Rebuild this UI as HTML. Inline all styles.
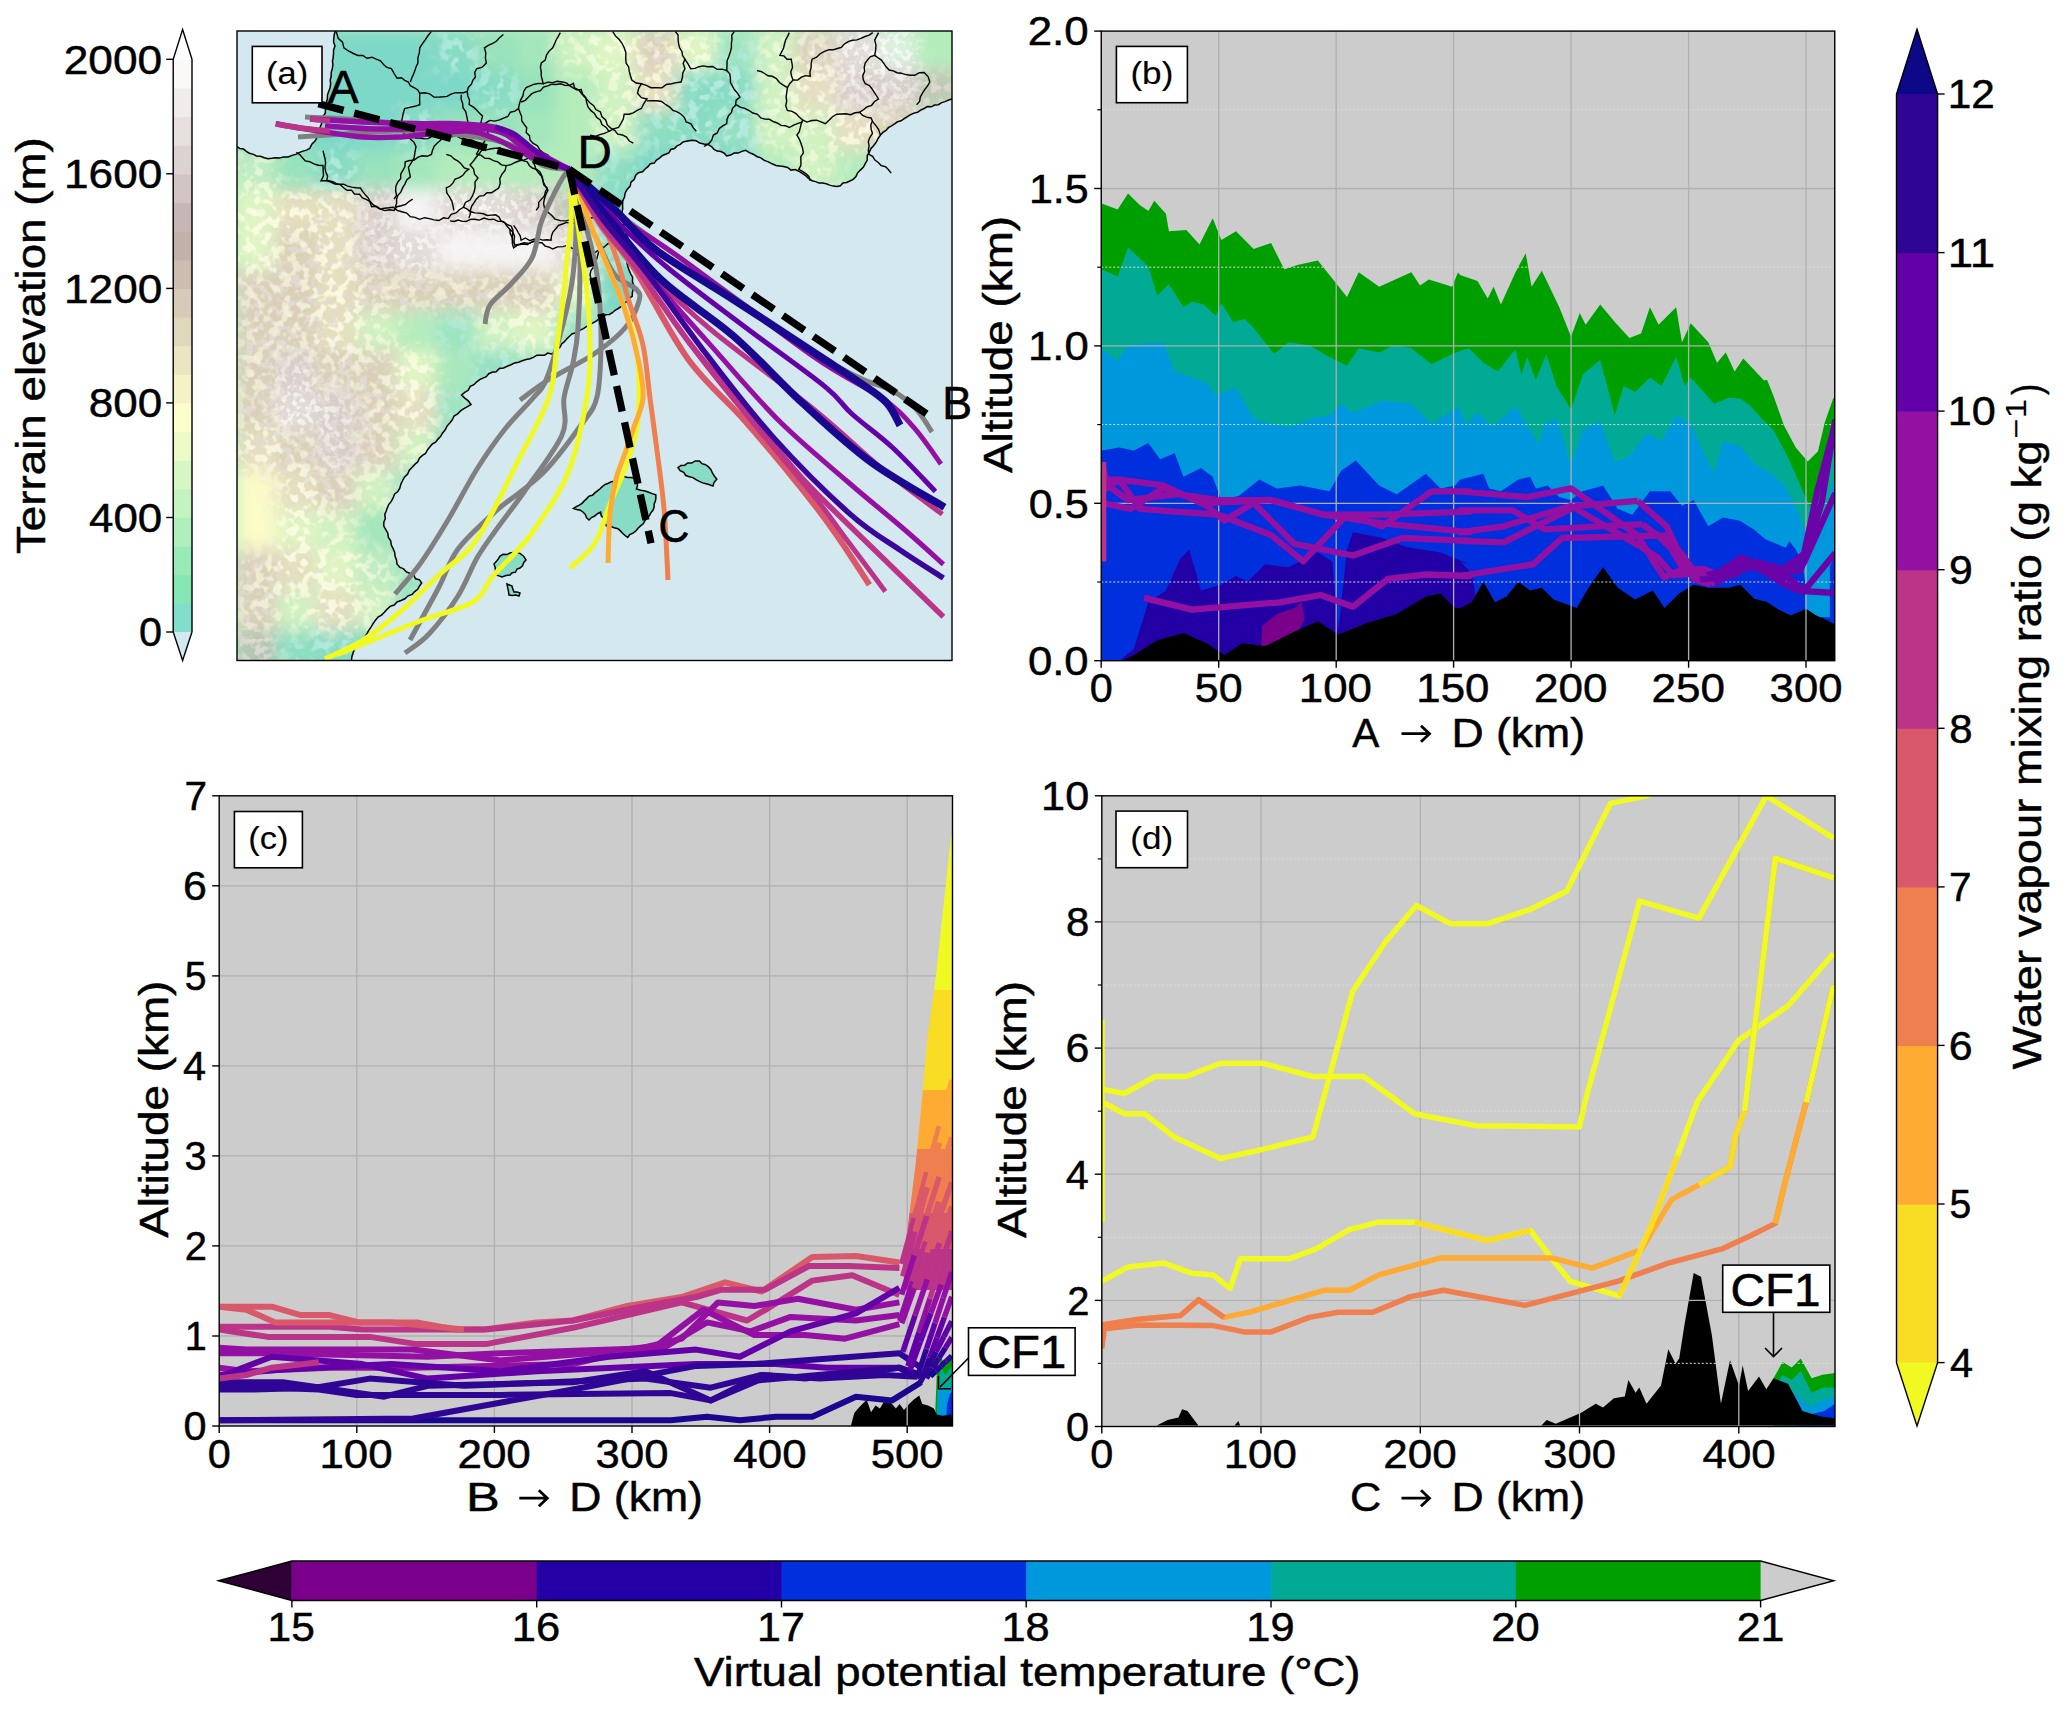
<!DOCTYPE html><html><head><meta charset="utf-8"><style>html,body{margin:0;padding:0;background:#fff;}svg{display:block;}</style></head><body><svg width="2067" height="1712" viewBox="0 0 2067 1712" font-family="Liberation Sans, sans-serif">
<rect x="0" y="0" width="2067" height="1712" fill="#fff"/>
<rect x="173.2" y="603.37" width="18.8" height="29.23" fill="#80deca"/>
<rect x="173.2" y="574.73" width="18.8" height="29.23" fill="#84e6b3"/>
<rect x="173.2" y="546.10" width="18.8" height="29.23" fill="#98eab7"/>
<rect x="173.2" y="517.46" width="18.8" height="29.23" fill="#aeefbc"/>
<rect x="173.2" y="488.82" width="18.8" height="29.24" fill="#c2f3c0"/>
<rect x="173.2" y="460.19" width="18.8" height="29.24" fill="#d6f7c4"/>
<rect x="173.2" y="431.55" width="18.8" height="29.23" fill="#eafbc8"/>
<rect x="173.2" y="402.92" width="18.8" height="29.23" fill="#fefecc"/>
<rect x="173.2" y="374.28" width="18.8" height="29.23" fill="#f4f2c6"/>
<rect x="173.2" y="345.65" width="18.8" height="29.23" fill="#ebe5c1"/>
<rect x="173.2" y="317.01" width="18.8" height="29.24" fill="#e0d8bc"/>
<rect x="173.2" y="288.38" width="18.8" height="29.23" fill="#d6cbb6"/>
<rect x="173.2" y="259.74" width="18.8" height="29.23" fill="#ccbdb0"/>
<rect x="173.2" y="231.11" width="18.8" height="29.23" fill="#c2b0ab"/>
<rect x="173.2" y="202.47" width="18.8" height="29.24" fill="#c7b7b4"/>
<rect x="173.2" y="173.84" width="18.8" height="29.23" fill="#d1c4c1"/>
<rect x="173.2" y="145.20" width="18.8" height="29.23" fill="#dcd2d0"/>
<rect x="173.2" y="116.57" width="18.8" height="29.23" fill="#e6dfde"/>
<rect x="173.2" y="87.93" width="18.8" height="29.23" fill="#f0eceb"/>
<rect x="173.2" y="59.30" width="18.8" height="29.23" fill="#faf9f8"/>
<polygon points="173.2,632.0 192.0,632.0 182.6,660.5" fill="#d4e8f0"/>
<polygon points="173.2,59.3 192.0,59.3 182.6,29.5" fill="#fdfdfd"/>
<polygon points="182.6,29.5 192.0,59.3 192.0,632.0 182.6,660.5 173.2,632.0 173.2,59.3" fill="none" stroke="#000" stroke-width="1.4"/>
<line x1="166.2" y1="632.0" x2="173.2" y2="632.0" stroke="#000" stroke-width="1.4"/>
<text x="139.08" y="646.3" font-size="40.0" textLength="23.04" lengthAdjust="spacingAndGlyphs" fill="#000" stroke="#000" stroke-width="0.47">0</text>
<line x1="166.2" y1="517.5" x2="173.2" y2="517.5" stroke="#000" stroke-width="1.4"/>
<text x="89.01" y="531.8" font-size="40.0" textLength="73.20" lengthAdjust="spacingAndGlyphs" fill="#000" stroke="#000" stroke-width="0.47">400</text>
<line x1="166.2" y1="402.9" x2="173.2" y2="402.9" stroke="#000" stroke-width="1.4"/>
<text x="88.85" y="417.2" font-size="40.0" textLength="73.36" lengthAdjust="spacingAndGlyphs" fill="#000" stroke="#000" stroke-width="0.47">800</text>
<line x1="166.2" y1="288.4" x2="173.2" y2="288.4" stroke="#000" stroke-width="1.4"/>
<text x="64.05" y="302.7" font-size="40.0" textLength="98.17" lengthAdjust="spacingAndGlyphs" fill="#000" stroke="#000" stroke-width="0.47">1200</text>
<line x1="166.2" y1="173.8" x2="173.2" y2="173.8" stroke="#000" stroke-width="1.4"/>
<text x="64.05" y="188.1" font-size="40.0" textLength="98.17" lengthAdjust="spacingAndGlyphs" fill="#000" stroke="#000" stroke-width="0.47">1600</text>
<line x1="166.2" y1="59.3" x2="173.2" y2="59.3" stroke="#000" stroke-width="1.4"/>
<text x="63.75" y="73.6" font-size="40.0" textLength="98.48" lengthAdjust="spacingAndGlyphs" fill="#000" stroke="#000" stroke-width="0.47">2000</text>
<text x="-162.30" y="346.5" font-size="40.0" textLength="416.79" lengthAdjust="spacingAndGlyphs" fill="#000" stroke="#000" stroke-width="0.47" transform="rotate(-90 45.2 346.5)">Terrain elevation (m)</text>
<defs><clipPath id="mapclip"><rect x="237" y="31" width="715" height="629.5"/></clipPath><clipPath id="landclip"><polygon points="335.4,31.0 333.5,53.5 328.7,91.4 323.0,119.9 317.3,137.0 309.7,148.4 296.4,154.1 279.4,157.9 268.0,158.8 252.8,154.1 237.0,146.5 237.0,660.5 351.5,660.5 357.2,643.7 366.7,634.2 378.0,617.1 397.0,602.0 412.2,594.4 421.7,583.0 410.3,573.5 397.0,564.0 391.3,545.0 383.8,526.0 384.7,514.6 391.3,501.4 400.8,484.3 412.2,467.2 427.4,450.0 442.6,433.0 454.0,416.0 471.0,404.5 461.6,395.0 476.8,381.8 492.0,372.3 511.0,364.7 533.7,357.1 555.0,352.3 569.2,336.5 590.2,324.3 618.2,308.5 632.2,296.3 634.0,285.7 630.5,273.5 627.0,263.0 635.7,254.2 630.5,243.7 623.5,222.7 622.6,205.1 625.2,192.9 635.7,175.3 648.0,166.6 665.5,154.3 683.0,142.0 696.3,140.8 711.5,146.5 726.7,156.0 745.7,150.3 760.8,157.9 776.0,165.5 798.8,171.2 812.1,180.7 836.8,186.4 855.8,176.9 865.2,163.6 871.0,148.4 880.4,135.1 897.5,121.8 924.1,108.5 952.0,99.0 952.0,31.0"/></clipPath><filter id="blgrid" filterUnits="userSpaceOnUse" x="0" y="0" width="1100" height="800"><feGaussianBlur stdDeviation="8"/></filter><filter id="blmask" filterUnits="userSpaceOnUse" x="0" y="0" width="1100" height="800"><feGaussianBlur stdDeviation="10"/></filter><filter id="speck" filterUnits="userSpaceOnUse" x="237" y="31" width="715" height="630"><feTurbulence type="fractalNoise" baseFrequency="0.18" numOctaves="2" seed="7"/><feColorMatrix type="matrix" values="0 0 0 0 1  0 0 0 0 1  0 0 0 0 1  3 0 0 0 -1.75"/></filter><filter id="speckd" filterUnits="userSpaceOnUse" x="237" y="31" width="715" height="630"><feTurbulence type="fractalNoise" baseFrequency="0.15" numOctaves="2" seed="11"/><feColorMatrix type="matrix" values="0 0 0 0 0.45  0 0 0 0 0.4  0 0 0 0 0.35  0 3 0 0 -1.85"/></filter></defs>
<g clip-path="url(#mapclip)">
<rect x="237.0" y="31.0" width="715.0" height="629.5" fill="#d4e8f0"/>
<polygon points="335.4,31.0 333.5,53.5 328.7,91.4 323.0,119.9 317.3,137.0 309.7,148.4 296.4,154.1 279.4,157.9 268.0,158.8 252.8,154.1 237.0,146.5 237.0,660.5 351.5,660.5 357.2,643.7 366.7,634.2 378.0,617.1 397.0,602.0 412.2,594.4 421.7,583.0 410.3,573.5 397.0,564.0 391.3,545.0 383.8,526.0 384.7,514.6 391.3,501.4 400.8,484.3 412.2,467.2 427.4,450.0 442.6,433.0 454.0,416.0 471.0,404.5 461.6,395.0 476.8,381.8 492.0,372.3 511.0,364.7 533.7,357.1 555.0,352.3 569.2,336.5 590.2,324.3 618.2,308.5 632.2,296.3 634.0,285.7 630.5,273.5 627.0,263.0 635.7,254.2 630.5,243.7 623.5,222.7 622.6,205.1 625.2,192.9 635.7,175.3 648.0,166.6 665.5,154.3 683.0,142.0 696.3,140.8 711.5,146.5 726.7,156.0 745.7,150.3 760.8,157.9 776.0,165.5 798.8,171.2 812.1,180.7 836.8,186.4 855.8,176.9 865.2,163.6 871.0,148.4 880.4,135.1 897.5,121.8 924.1,108.5 952.0,99.0 952.0,31.0" fill="#b4eebe"/>
<g clip-path="url(#landclip)">
<g filter="url(#blgrid)">
<rect x="236" y="30" width="42" height="42" fill="#7ed8c8"/>
<rect x="276" y="30" width="42" height="42" fill="#7ed8c8"/>
<rect x="316" y="30" width="42" height="42" fill="#7ed8c8"/>
<rect x="356" y="30" width="42" height="42" fill="#7ed8c8"/>
<rect x="396" y="30" width="42" height="42" fill="#7ed8c8"/>
<rect x="436" y="30" width="42" height="42" fill="#88dcc3"/>
<rect x="476" y="30" width="42" height="42" fill="#98e2bc"/>
<rect x="516" y="30" width="42" height="42" fill="#a3e6bc"/>
<rect x="556" y="30" width="42" height="42" fill="#d0f2c1"/>
<rect x="596" y="30" width="42" height="42" fill="#dff5c3"/>
<rect x="636" y="30" width="42" height="42" fill="#dad0b7"/>
<rect x="676" y="30" width="42" height="42" fill="#dff5c3"/>
<rect x="716" y="30" width="42" height="42" fill="#9ee4c1"/>
<rect x="756" y="30" width="42" height="42" fill="#d0f2c1"/>
<rect x="796" y="30" width="42" height="42" fill="#dad0b7"/>
<rect x="836" y="30" width="42" height="42" fill="#e2dad7"/>
<rect x="876" y="30" width="42" height="42" fill="#dcf1de"/>
<rect x="916" y="30" width="42" height="42" fill="#b4ecbc"/>
<rect x="236" y="70" width="42" height="42" fill="#7ed8c8"/>
<rect x="276" y="70" width="42" height="42" fill="#7ed8c8"/>
<rect x="316" y="70" width="42" height="42" fill="#7ed8c8"/>
<rect x="356" y="70" width="42" height="42" fill="#7ed8c8"/>
<rect x="396" y="70" width="42" height="42" fill="#7ed8c8"/>
<rect x="436" y="70" width="42" height="42" fill="#7ed8c8"/>
<rect x="476" y="70" width="42" height="42" fill="#88dcc3"/>
<rect x="516" y="70" width="42" height="42" fill="#98e2bc"/>
<rect x="556" y="70" width="42" height="42" fill="#b4ecbc"/>
<rect x="596" y="70" width="42" height="42" fill="#d0f2c1"/>
<rect x="636" y="70" width="42" height="42" fill="#e5dfbd"/>
<rect x="676" y="70" width="42" height="42" fill="#88dcc3"/>
<rect x="716" y="70" width="42" height="42" fill="#88dcc3"/>
<rect x="756" y="70" width="42" height="42" fill="#d0f2c1"/>
<rect x="796" y="70" width="42" height="42" fill="#e5dfbd"/>
<rect x="836" y="70" width="42" height="42" fill="#d8cec9"/>
<rect x="876" y="70" width="42" height="42" fill="#d8cec9"/>
<rect x="916" y="70" width="42" height="42" fill="#becab2"/>
<rect x="236" y="110" width="42" height="42" fill="#7ed8c8"/>
<rect x="276" y="110" width="42" height="42" fill="#7ed8c8"/>
<rect x="316" y="110" width="42" height="42" fill="#7ed8c8"/>
<rect x="356" y="110" width="42" height="42" fill="#7ed8c8"/>
<rect x="396" y="110" width="42" height="42" fill="#88dcc3"/>
<rect x="436" y="110" width="42" height="42" fill="#98e2bc"/>
<rect x="476" y="110" width="42" height="42" fill="#98e2bc"/>
<rect x="516" y="110" width="42" height="42" fill="#a3e6bc"/>
<rect x="556" y="110" width="42" height="42" fill="#b4ecbc"/>
<rect x="596" y="110" width="42" height="42" fill="#d0f2c1"/>
<rect x="636" y="110" width="42" height="42" fill="#8edec1"/>
<rect x="676" y="110" width="42" height="42" fill="#88dcc3"/>
<rect x="716" y="110" width="42" height="42" fill="#94e0c3"/>
<rect x="756" y="110" width="42" height="42" fill="#d0f2c1"/>
<rect x="796" y="110" width="42" height="42" fill="#d0f2c1"/>
<rect x="836" y="110" width="42" height="42" fill="#e5dfbd"/>
<rect x="876" y="110" width="42" height="42" fill="#dad0b7"/>
<rect x="916" y="110" width="42" height="42" fill="#b4ecbc"/>
<rect x="236" y="150" width="42" height="42" fill="#c0ecc1"/>
<rect x="276" y="150" width="42" height="42" fill="#98e2bc"/>
<rect x="316" y="150" width="42" height="42" fill="#88dcc3"/>
<rect x="356" y="150" width="42" height="42" fill="#98e2bc"/>
<rect x="396" y="150" width="42" height="42" fill="#a3e6bc"/>
<rect x="436" y="150" width="42" height="42" fill="#b4ecbc"/>
<rect x="476" y="150" width="42" height="42" fill="#b4ecbc"/>
<rect x="516" y="150" width="42" height="42" fill="#b4ecbc"/>
<rect x="556" y="150" width="42" height="42" fill="#b4ecbc"/>
<rect x="596" y="150" width="42" height="42" fill="#8edec1"/>
<rect x="636" y="150" width="42" height="42" fill="#7ed8c8"/>
<rect x="676" y="150" width="42" height="42" fill="#7ed8c8"/>
<rect x="716" y="150" width="42" height="42" fill="#7ed8c8"/>
<rect x="756" y="150" width="42" height="42" fill="#b4ecbc"/>
<rect x="796" y="150" width="42" height="42" fill="#d0f2c1"/>
<rect x="836" y="150" width="42" height="42" fill="#b4ecbc"/>
<rect x="876" y="150" width="42" height="42" fill="#7ed8c8"/>
<rect x="916" y="150" width="42" height="42" fill="#7ed8c8"/>
<rect x="236" y="190" width="42" height="42" fill="#dff5c3"/>
<rect x="276" y="190" width="42" height="42" fill="#e5dfbd"/>
<rect x="316" y="190" width="42" height="42" fill="#e5dfbd"/>
<rect x="356" y="190" width="42" height="42" fill="#d8cec9"/>
<rect x="396" y="190" width="42" height="42" fill="#f6f4f4"/>
<rect x="436" y="190" width="42" height="42" fill="#e2dad7"/>
<rect x="476" y="190" width="42" height="42" fill="#e2dad7"/>
<rect x="516" y="190" width="42" height="42" fill="#d8cec9"/>
<rect x="556" y="190" width="42" height="42" fill="#becab2"/>
<rect x="596" y="190" width="42" height="42" fill="#7ed8c8"/>
<rect x="636" y="190" width="42" height="42" fill="#7ed8c8"/>
<rect x="676" y="190" width="42" height="42" fill="#7ed8c8"/>
<rect x="716" y="190" width="42" height="42" fill="#7ed8c8"/>
<rect x="756" y="190" width="42" height="42" fill="#7ed8c8"/>
<rect x="796" y="190" width="42" height="42" fill="#7ed8c8"/>
<rect x="836" y="190" width="42" height="42" fill="#7ed8c8"/>
<rect x="876" y="190" width="42" height="42" fill="#7ed8c8"/>
<rect x="916" y="190" width="42" height="42" fill="#7ed8c8"/>
<rect x="236" y="230" width="42" height="42" fill="#dff5c3"/>
<rect x="276" y="230" width="42" height="42" fill="#dad0b7"/>
<rect x="316" y="230" width="42" height="42" fill="#e5dfbd"/>
<rect x="356" y="230" width="42" height="42" fill="#d8cec9"/>
<rect x="396" y="230" width="42" height="42" fill="#e2dad7"/>
<rect x="436" y="230" width="42" height="42" fill="#f6f4f4"/>
<rect x="476" y="230" width="42" height="42" fill="#f6f4f4"/>
<rect x="516" y="230" width="42" height="42" fill="#f6f4f4"/>
<rect x="556" y="230" width="42" height="42" fill="#e2dad7"/>
<rect x="596" y="230" width="42" height="42" fill="#94e0c3"/>
<rect x="636" y="230" width="42" height="42" fill="#7ed8c8"/>
<rect x="676" y="230" width="42" height="42" fill="#7ed8c8"/>
<rect x="716" y="230" width="42" height="42" fill="#7ed8c8"/>
<rect x="756" y="230" width="42" height="42" fill="#7ed8c8"/>
<rect x="796" y="230" width="42" height="42" fill="#7ed8c8"/>
<rect x="836" y="230" width="42" height="42" fill="#7ed8c8"/>
<rect x="876" y="230" width="42" height="42" fill="#7ed8c8"/>
<rect x="916" y="230" width="42" height="42" fill="#7ed8c8"/>
<rect x="236" y="270" width="42" height="42" fill="#dad0b7"/>
<rect x="276" y="270" width="42" height="42" fill="#dad0b7"/>
<rect x="316" y="270" width="42" height="42" fill="#e5dfbd"/>
<rect x="356" y="270" width="42" height="42" fill="#dad0b7"/>
<rect x="396" y="270" width="42" height="42" fill="#dad0b7"/>
<rect x="436" y="270" width="42" height="42" fill="#dad0b7"/>
<rect x="476" y="270" width="42" height="42" fill="#dad0b7"/>
<rect x="516" y="270" width="42" height="42" fill="#dad0b7"/>
<rect x="556" y="270" width="42" height="42" fill="#dff5c3"/>
<rect x="596" y="270" width="42" height="42" fill="#7ed8c8"/>
<rect x="636" y="270" width="42" height="42" fill="#7ed8c8"/>
<rect x="676" y="270" width="42" height="42" fill="#7ed8c8"/>
<rect x="716" y="270" width="42" height="42" fill="#7ed8c8"/>
<rect x="756" y="270" width="42" height="42" fill="#7ed8c8"/>
<rect x="796" y="270" width="42" height="42" fill="#7ed8c8"/>
<rect x="836" y="270" width="42" height="42" fill="#7ed8c8"/>
<rect x="876" y="270" width="42" height="42" fill="#7ed8c8"/>
<rect x="916" y="270" width="42" height="42" fill="#7ed8c8"/>
<rect x="236" y="310" width="42" height="42" fill="#dad0b7"/>
<rect x="276" y="310" width="42" height="42" fill="#dad0b7"/>
<rect x="316" y="310" width="42" height="42" fill="#e5dfbd"/>
<rect x="356" y="310" width="42" height="42" fill="#d0f2c1"/>
<rect x="396" y="310" width="42" height="42" fill="#b4ecbc"/>
<rect x="436" y="310" width="42" height="42" fill="#9ee4c1"/>
<rect x="476" y="310" width="42" height="42" fill="#d0f2c1"/>
<rect x="516" y="310" width="42" height="42" fill="#dff5c3"/>
<rect x="556" y="310" width="42" height="42" fill="#9ee4c1"/>
<rect x="596" y="310" width="42" height="42" fill="#7ed8c8"/>
<rect x="636" y="310" width="42" height="42" fill="#7ed8c8"/>
<rect x="676" y="310" width="42" height="42" fill="#7ed8c8"/>
<rect x="716" y="310" width="42" height="42" fill="#7ed8c8"/>
<rect x="756" y="310" width="42" height="42" fill="#7ed8c8"/>
<rect x="796" y="310" width="42" height="42" fill="#7ed8c8"/>
<rect x="836" y="310" width="42" height="42" fill="#7ed8c8"/>
<rect x="876" y="310" width="42" height="42" fill="#7ed8c8"/>
<rect x="916" y="310" width="42" height="42" fill="#7ed8c8"/>
<rect x="236" y="350" width="42" height="42" fill="#dad0b7"/>
<rect x="276" y="350" width="42" height="42" fill="#d8cec9"/>
<rect x="316" y="350" width="42" height="42" fill="#dad0b7"/>
<rect x="356" y="350" width="42" height="42" fill="#dad0b7"/>
<rect x="396" y="350" width="42" height="42" fill="#dff5c3"/>
<rect x="436" y="350" width="42" height="42" fill="#a9e8bc"/>
<rect x="476" y="350" width="42" height="42" fill="#94e0c3"/>
<rect x="516" y="350" width="42" height="42" fill="#9ee4c1"/>
<rect x="556" y="350" width="42" height="42" fill="#7ed8c8"/>
<rect x="596" y="350" width="42" height="42" fill="#7ed8c8"/>
<rect x="636" y="350" width="42" height="42" fill="#7ed8c8"/>
<rect x="676" y="350" width="42" height="42" fill="#7ed8c8"/>
<rect x="716" y="350" width="42" height="42" fill="#7ed8c8"/>
<rect x="756" y="350" width="42" height="42" fill="#7ed8c8"/>
<rect x="796" y="350" width="42" height="42" fill="#7ed8c8"/>
<rect x="836" y="350" width="42" height="42" fill="#7ed8c8"/>
<rect x="876" y="350" width="42" height="42" fill="#7ed8c8"/>
<rect x="916" y="350" width="42" height="42" fill="#7ed8c8"/>
<rect x="236" y="390" width="42" height="42" fill="#dad0b7"/>
<rect x="276" y="390" width="42" height="42" fill="#e2dad7"/>
<rect x="316" y="390" width="42" height="42" fill="#d8cec9"/>
<rect x="356" y="390" width="42" height="42" fill="#dad0b7"/>
<rect x="396" y="390" width="42" height="42" fill="#e5dfbd"/>
<rect x="436" y="390" width="42" height="42" fill="#9ee4c1"/>
<rect x="476" y="390" width="42" height="42" fill="#7ed8c8"/>
<rect x="516" y="390" width="42" height="42" fill="#7ed8c8"/>
<rect x="556" y="390" width="42" height="42" fill="#7ed8c8"/>
<rect x="596" y="390" width="42" height="42" fill="#7ed8c8"/>
<rect x="636" y="390" width="42" height="42" fill="#7ed8c8"/>
<rect x="676" y="390" width="42" height="42" fill="#7ed8c8"/>
<rect x="716" y="390" width="42" height="42" fill="#7ed8c8"/>
<rect x="756" y="390" width="42" height="42" fill="#7ed8c8"/>
<rect x="796" y="390" width="42" height="42" fill="#7ed8c8"/>
<rect x="836" y="390" width="42" height="42" fill="#7ed8c8"/>
<rect x="876" y="390" width="42" height="42" fill="#7ed8c8"/>
<rect x="916" y="390" width="42" height="42" fill="#7ed8c8"/>
<rect x="236" y="430" width="42" height="42" fill="#e5dfbd"/>
<rect x="276" y="430" width="42" height="42" fill="#dad0b7"/>
<rect x="316" y="430" width="42" height="42" fill="#d8cec9"/>
<rect x="356" y="430" width="42" height="42" fill="#dad0b7"/>
<rect x="396" y="430" width="42" height="42" fill="#d0f2c1"/>
<rect x="436" y="430" width="42" height="42" fill="#7ed8c8"/>
<rect x="476" y="430" width="42" height="42" fill="#7ed8c8"/>
<rect x="516" y="430" width="42" height="42" fill="#7ed8c8"/>
<rect x="556" y="430" width="42" height="42" fill="#7ed8c8"/>
<rect x="596" y="430" width="42" height="42" fill="#7ed8c8"/>
<rect x="636" y="430" width="42" height="42" fill="#7ed8c8"/>
<rect x="676" y="430" width="42" height="42" fill="#7ed8c8"/>
<rect x="716" y="430" width="42" height="42" fill="#7ed8c8"/>
<rect x="756" y="430" width="42" height="42" fill="#7ed8c8"/>
<rect x="796" y="430" width="42" height="42" fill="#7ed8c8"/>
<rect x="836" y="430" width="42" height="42" fill="#7ed8c8"/>
<rect x="876" y="430" width="42" height="42" fill="#7ed8c8"/>
<rect x="916" y="430" width="42" height="42" fill="#7ed8c8"/>
<rect x="236" y="470" width="42" height="42" fill="#fbfbc8"/>
<rect x="276" y="470" width="42" height="42" fill="#e5dfbd"/>
<rect x="316" y="470" width="42" height="42" fill="#dad0b7"/>
<rect x="356" y="470" width="42" height="42" fill="#d0f2c1"/>
<rect x="396" y="470" width="42" height="42" fill="#94e0c3"/>
<rect x="436" y="470" width="42" height="42" fill="#7ed8c8"/>
<rect x="476" y="470" width="42" height="42" fill="#7ed8c8"/>
<rect x="516" y="470" width="42" height="42" fill="#7ed8c8"/>
<rect x="556" y="470" width="42" height="42" fill="#7ed8c8"/>
<rect x="596" y="470" width="42" height="42" fill="#7ed8c8"/>
<rect x="636" y="470" width="42" height="42" fill="#7ed8c8"/>
<rect x="676" y="470" width="42" height="42" fill="#7ed8c8"/>
<rect x="716" y="470" width="42" height="42" fill="#7ed8c8"/>
<rect x="756" y="470" width="42" height="42" fill="#7ed8c8"/>
<rect x="796" y="470" width="42" height="42" fill="#7ed8c8"/>
<rect x="836" y="470" width="42" height="42" fill="#7ed8c8"/>
<rect x="876" y="470" width="42" height="42" fill="#7ed8c8"/>
<rect x="916" y="470" width="42" height="42" fill="#7ed8c8"/>
<rect x="236" y="510" width="42" height="42" fill="#fbfbc8"/>
<rect x="276" y="510" width="42" height="42" fill="#dff5c3"/>
<rect x="316" y="510" width="42" height="42" fill="#d0f2c1"/>
<rect x="356" y="510" width="42" height="42" fill="#a3e6bc"/>
<rect x="396" y="510" width="42" height="42" fill="#7ed8c8"/>
<rect x="436" y="510" width="42" height="42" fill="#7ed8c8"/>
<rect x="476" y="510" width="42" height="42" fill="#7ed8c8"/>
<rect x="516" y="510" width="42" height="42" fill="#7ed8c8"/>
<rect x="556" y="510" width="42" height="42" fill="#7ed8c8"/>
<rect x="596" y="510" width="42" height="42" fill="#7ed8c8"/>
<rect x="636" y="510" width="42" height="42" fill="#7ed8c8"/>
<rect x="676" y="510" width="42" height="42" fill="#7ed8c8"/>
<rect x="716" y="510" width="42" height="42" fill="#7ed8c8"/>
<rect x="756" y="510" width="42" height="42" fill="#7ed8c8"/>
<rect x="796" y="510" width="42" height="42" fill="#7ed8c8"/>
<rect x="836" y="510" width="42" height="42" fill="#7ed8c8"/>
<rect x="876" y="510" width="42" height="42" fill="#7ed8c8"/>
<rect x="916" y="510" width="42" height="42" fill="#7ed8c8"/>
<rect x="236" y="550" width="42" height="42" fill="#dad0b7"/>
<rect x="276" y="550" width="42" height="42" fill="#e5dfbd"/>
<rect x="316" y="550" width="42" height="42" fill="#dff5c3"/>
<rect x="356" y="550" width="42" height="42" fill="#c0ecc1"/>
<rect x="396" y="550" width="42" height="42" fill="#9ee4c1"/>
<rect x="436" y="550" width="42" height="42" fill="#7ed8c8"/>
<rect x="476" y="550" width="42" height="42" fill="#7ed8c8"/>
<rect x="516" y="550" width="42" height="42" fill="#7ed8c8"/>
<rect x="556" y="550" width="42" height="42" fill="#7ed8c8"/>
<rect x="596" y="550" width="42" height="42" fill="#7ed8c8"/>
<rect x="636" y="550" width="42" height="42" fill="#7ed8c8"/>
<rect x="676" y="550" width="42" height="42" fill="#7ed8c8"/>
<rect x="716" y="550" width="42" height="42" fill="#7ed8c8"/>
<rect x="756" y="550" width="42" height="42" fill="#7ed8c8"/>
<rect x="796" y="550" width="42" height="42" fill="#7ed8c8"/>
<rect x="836" y="550" width="42" height="42" fill="#7ed8c8"/>
<rect x="876" y="550" width="42" height="42" fill="#7ed8c8"/>
<rect x="916" y="550" width="42" height="42" fill="#7ed8c8"/>
<rect x="236" y="590" width="42" height="42" fill="#dad0b7"/>
<rect x="276" y="590" width="42" height="42" fill="#d0f2c1"/>
<rect x="316" y="590" width="42" height="42" fill="#e5dfbd"/>
<rect x="356" y="590" width="42" height="42" fill="#d0f2c1"/>
<rect x="396" y="590" width="42" height="42" fill="#94e0c3"/>
<rect x="436" y="590" width="42" height="42" fill="#7ed8c8"/>
<rect x="476" y="590" width="42" height="42" fill="#7ed8c8"/>
<rect x="516" y="590" width="42" height="42" fill="#7ed8c8"/>
<rect x="556" y="590" width="42" height="42" fill="#7ed8c8"/>
<rect x="596" y="590" width="42" height="42" fill="#7ed8c8"/>
<rect x="636" y="590" width="42" height="42" fill="#7ed8c8"/>
<rect x="676" y="590" width="42" height="42" fill="#7ed8c8"/>
<rect x="716" y="590" width="42" height="42" fill="#7ed8c8"/>
<rect x="756" y="590" width="42" height="42" fill="#7ed8c8"/>
<rect x="796" y="590" width="42" height="42" fill="#7ed8c8"/>
<rect x="836" y="590" width="42" height="42" fill="#7ed8c8"/>
<rect x="876" y="590" width="42" height="42" fill="#7ed8c8"/>
<rect x="916" y="590" width="42" height="42" fill="#7ed8c8"/>
<rect x="236" y="630" width="42" height="42" fill="#b2c6b2"/>
<rect x="276" y="630" width="42" height="42" fill="#8edec1"/>
<rect x="316" y="630" width="42" height="42" fill="#88dcc3"/>
<rect x="356" y="630" width="42" height="42" fill="#7ed8c8"/>
<rect x="396" y="630" width="42" height="42" fill="#7ed8c8"/>
<rect x="436" y="630" width="42" height="42" fill="#7ed8c8"/>
<rect x="476" y="630" width="42" height="42" fill="#7ed8c8"/>
<rect x="516" y="630" width="42" height="42" fill="#7ed8c8"/>
<rect x="556" y="630" width="42" height="42" fill="#7ed8c8"/>
<rect x="596" y="630" width="42" height="42" fill="#7ed8c8"/>
<rect x="636" y="630" width="42" height="42" fill="#7ed8c8"/>
<rect x="676" y="630" width="42" height="42" fill="#7ed8c8"/>
<rect x="716" y="630" width="42" height="42" fill="#7ed8c8"/>
<rect x="756" y="630" width="42" height="42" fill="#7ed8c8"/>
<rect x="796" y="630" width="42" height="42" fill="#7ed8c8"/>
<rect x="836" y="630" width="42" height="42" fill="#7ed8c8"/>
<rect x="876" y="630" width="42" height="42" fill="#7ed8c8"/>
<rect x="916" y="630" width="42" height="42" fill="#7ed8c8"/>
</g>
<mask id="mkB" maskUnits="userSpaceOnUse" x="237" y="31" width="715" height="630"><g filter="url(#blmask)"><rect x="636" y="30" width="42" height="42" fill="rgb(214,214,214)"/><rect x="796" y="30" width="42" height="42" fill="rgb(214,214,214)"/><rect x="836" y="30" width="42" height="42" fill="rgb(142,142,142)"/><rect x="636" y="70" width="42" height="42" fill="rgb(142,142,142)"/><rect x="796" y="70" width="42" height="42" fill="rgb(142,142,142)"/><rect x="836" y="70" width="42" height="42" fill="rgb(214,214,214)"/><rect x="876" y="70" width="42" height="42" fill="rgb(214,214,214)"/><rect x="916" y="70" width="42" height="42" fill="rgb(214,214,214)"/><rect x="836" y="110" width="42" height="42" fill="rgb(142,142,142)"/><rect x="876" y="110" width="42" height="42" fill="rgb(214,214,214)"/><rect x="276" y="190" width="42" height="42" fill="rgb(142,142,142)"/><rect x="316" y="190" width="42" height="42" fill="rgb(142,142,142)"/><rect x="356" y="190" width="42" height="42" fill="rgb(214,214,214)"/><rect x="436" y="190" width="42" height="42" fill="rgb(142,142,142)"/><rect x="476" y="190" width="42" height="42" fill="rgb(142,142,142)"/><rect x="516" y="190" width="42" height="42" fill="rgb(214,214,214)"/><rect x="556" y="190" width="42" height="42" fill="rgb(214,214,214)"/><rect x="276" y="230" width="42" height="42" fill="rgb(214,214,214)"/><rect x="316" y="230" width="42" height="42" fill="rgb(142,142,142)"/><rect x="356" y="230" width="42" height="42" fill="rgb(214,214,214)"/><rect x="396" y="230" width="42" height="42" fill="rgb(142,142,142)"/><rect x="556" y="230" width="42" height="42" fill="rgb(142,142,142)"/><rect x="236" y="270" width="42" height="42" fill="rgb(214,214,214)"/><rect x="276" y="270" width="42" height="42" fill="rgb(214,214,214)"/><rect x="316" y="270" width="42" height="42" fill="rgb(142,142,142)"/><rect x="356" y="270" width="42" height="42" fill="rgb(214,214,214)"/><rect x="396" y="270" width="42" height="42" fill="rgb(214,214,214)"/><rect x="436" y="270" width="42" height="42" fill="rgb(214,214,214)"/><rect x="476" y="270" width="42" height="42" fill="rgb(214,214,214)"/><rect x="516" y="270" width="42" height="42" fill="rgb(214,214,214)"/><rect x="236" y="310" width="42" height="42" fill="rgb(214,214,214)"/><rect x="276" y="310" width="42" height="42" fill="rgb(214,214,214)"/><rect x="316" y="310" width="42" height="42" fill="rgb(142,142,142)"/><rect x="236" y="350" width="42" height="42" fill="rgb(214,214,214)"/><rect x="276" y="350" width="42" height="42" fill="rgb(214,214,214)"/><rect x="316" y="350" width="42" height="42" fill="rgb(214,214,214)"/><rect x="356" y="350" width="42" height="42" fill="rgb(214,214,214)"/><rect x="236" y="390" width="42" height="42" fill="rgb(214,214,214)"/><rect x="276" y="390" width="42" height="42" fill="rgb(142,142,142)"/><rect x="316" y="390" width="42" height="42" fill="rgb(214,214,214)"/><rect x="356" y="390" width="42" height="42" fill="rgb(214,214,214)"/><rect x="396" y="390" width="42" height="42" fill="rgb(142,142,142)"/><rect x="236" y="430" width="42" height="42" fill="rgb(142,142,142)"/><rect x="276" y="430" width="42" height="42" fill="rgb(214,214,214)"/><rect x="316" y="430" width="42" height="42" fill="rgb(214,214,214)"/><rect x="356" y="430" width="42" height="42" fill="rgb(214,214,214)"/><rect x="276" y="470" width="42" height="42" fill="rgb(142,142,142)"/><rect x="316" y="470" width="42" height="42" fill="rgb(214,214,214)"/><rect x="236" y="550" width="42" height="42" fill="rgb(214,214,214)"/><rect x="276" y="550" width="42" height="42" fill="rgb(142,142,142)"/><rect x="236" y="590" width="42" height="42" fill="rgb(214,214,214)"/><rect x="316" y="590" width="42" height="42" fill="rgb(142,142,142)"/><rect x="236" y="630" width="42" height="42" fill="rgb(214,214,214)"/></g></mask>
<filter id="spB" filterUnits="userSpaceOnUse" x="237" y="31" width="715" height="630"><feTurbulence type="fractalNoise" baseFrequency="0.13" numOctaves="2" seed="3"/><feColorMatrix type="matrix" values="0 0 0 0 0.769  0 0 0 0 0.706  0 0 0 0 0.675  7 0 0 0 -3.4"/></filter>
<rect x="237" y="31" width="715" height="630" filter="url(#spB)" mask="url(#mkB)"/>
<mask id="mkW" maskUnits="userSpaceOnUse" x="237" y="31" width="715" height="630"><g filter="url(#blmask)"><rect x="836" y="30" width="42" height="42" fill="rgb(214,214,214)"/><rect x="876" y="30" width="42" height="42" fill="rgb(214,214,214)"/><rect x="836" y="70" width="42" height="42" fill="rgb(142,142,142)"/><rect x="876" y="70" width="42" height="42" fill="rgb(142,142,142)"/><rect x="356" y="190" width="42" height="42" fill="rgb(142,142,142)"/><rect x="436" y="190" width="42" height="42" fill="rgb(214,214,214)"/><rect x="476" y="190" width="42" height="42" fill="rgb(214,214,214)"/><rect x="516" y="190" width="42" height="42" fill="rgb(142,142,142)"/><rect x="356" y="230" width="42" height="42" fill="rgb(142,142,142)"/><rect x="396" y="230" width="42" height="42" fill="rgb(214,214,214)"/><rect x="556" y="230" width="42" height="42" fill="rgb(214,214,214)"/><rect x="276" y="350" width="42" height="42" fill="rgb(142,142,142)"/><rect x="276" y="390" width="42" height="42" fill="rgb(214,214,214)"/><rect x="316" y="390" width="42" height="42" fill="rgb(142,142,142)"/><rect x="316" y="430" width="42" height="42" fill="rgb(142,142,142)"/></g></mask>
<filter id="spW" filterUnits="userSpaceOnUse" x="237" y="31" width="715" height="630"><feTurbulence type="fractalNoise" baseFrequency="0.16" numOctaves="2" seed="9"/><feColorMatrix type="matrix" values="0 0 0 0 0.965  0 0 0 0 0.957  0 0 0 0 0.957  7 0 0 0 -3.4"/></filter>
<rect x="237" y="31" width="715" height="630" filter="url(#spW)" mask="url(#mkW)"/>
<mask id="mkY" maskUnits="userSpaceOnUse" x="237" y="31" width="715" height="630"><g filter="url(#blmask)"><rect x="556" y="30" width="42" height="42" fill="rgb(142,142,142)"/><rect x="596" y="30" width="42" height="42" fill="rgb(214,214,214)"/><rect x="636" y="30" width="42" height="42" fill="rgb(142,142,142)"/><rect x="676" y="30" width="42" height="42" fill="rgb(214,214,214)"/><rect x="756" y="30" width="42" height="42" fill="rgb(142,142,142)"/><rect x="796" y="30" width="42" height="42" fill="rgb(142,142,142)"/><rect x="596" y="70" width="42" height="42" fill="rgb(142,142,142)"/><rect x="636" y="70" width="42" height="42" fill="rgb(214,214,214)"/><rect x="756" y="70" width="42" height="42" fill="rgb(142,142,142)"/><rect x="796" y="70" width="42" height="42" fill="rgb(214,214,214)"/><rect x="596" y="110" width="42" height="42" fill="rgb(142,142,142)"/><rect x="756" y="110" width="42" height="42" fill="rgb(142,142,142)"/><rect x="796" y="110" width="42" height="42" fill="rgb(142,142,142)"/><rect x="836" y="110" width="42" height="42" fill="rgb(214,214,214)"/><rect x="876" y="110" width="42" height="42" fill="rgb(142,142,142)"/><rect x="236" y="150" width="42" height="42" fill="rgb(142,142,142)"/><rect x="796" y="150" width="42" height="42" fill="rgb(142,142,142)"/><rect x="236" y="190" width="42" height="42" fill="rgb(214,214,214)"/><rect x="276" y="190" width="42" height="42" fill="rgb(214,214,214)"/><rect x="316" y="190" width="42" height="42" fill="rgb(214,214,214)"/><rect x="236" y="230" width="42" height="42" fill="rgb(214,214,214)"/><rect x="276" y="230" width="42" height="42" fill="rgb(142,142,142)"/><rect x="316" y="230" width="42" height="42" fill="rgb(214,214,214)"/><rect x="236" y="270" width="42" height="42" fill="rgb(142,142,142)"/><rect x="276" y="270" width="42" height="42" fill="rgb(142,142,142)"/><rect x="316" y="270" width="42" height="42" fill="rgb(214,214,214)"/><rect x="356" y="270" width="42" height="42" fill="rgb(142,142,142)"/><rect x="396" y="270" width="42" height="42" fill="rgb(142,142,142)"/><rect x="436" y="270" width="42" height="42" fill="rgb(142,142,142)"/><rect x="476" y="270" width="42" height="42" fill="rgb(142,142,142)"/><rect x="516" y="270" width="42" height="42" fill="rgb(142,142,142)"/><rect x="556" y="270" width="42" height="42" fill="rgb(214,214,214)"/><rect x="236" y="310" width="42" height="42" fill="rgb(142,142,142)"/><rect x="276" y="310" width="42" height="42" fill="rgb(142,142,142)"/><rect x="316" y="310" width="42" height="42" fill="rgb(214,214,214)"/><rect x="356" y="310" width="42" height="42" fill="rgb(142,142,142)"/><rect x="476" y="310" width="42" height="42" fill="rgb(142,142,142)"/><rect x="516" y="310" width="42" height="42" fill="rgb(214,214,214)"/><rect x="236" y="350" width="42" height="42" fill="rgb(142,142,142)"/><rect x="316" y="350" width="42" height="42" fill="rgb(142,142,142)"/><rect x="356" y="350" width="42" height="42" fill="rgb(142,142,142)"/><rect x="396" y="350" width="42" height="42" fill="rgb(214,214,214)"/><rect x="236" y="390" width="42" height="42" fill="rgb(142,142,142)"/><rect x="356" y="390" width="42" height="42" fill="rgb(142,142,142)"/><rect x="396" y="390" width="42" height="42" fill="rgb(214,214,214)"/><rect x="236" y="430" width="42" height="42" fill="rgb(214,214,214)"/><rect x="276" y="430" width="42" height="42" fill="rgb(142,142,142)"/><rect x="356" y="430" width="42" height="42" fill="rgb(142,142,142)"/><rect x="396" y="430" width="42" height="42" fill="rgb(142,142,142)"/><rect x="276" y="470" width="42" height="42" fill="rgb(214,214,214)"/><rect x="316" y="470" width="42" height="42" fill="rgb(142,142,142)"/><rect x="356" y="470" width="42" height="42" fill="rgb(142,142,142)"/><rect x="276" y="510" width="42" height="42" fill="rgb(214,214,214)"/><rect x="316" y="510" width="42" height="42" fill="rgb(142,142,142)"/><rect x="236" y="550" width="42" height="42" fill="rgb(142,142,142)"/><rect x="276" y="550" width="42" height="42" fill="rgb(214,214,214)"/><rect x="316" y="550" width="42" height="42" fill="rgb(214,214,214)"/><rect x="356" y="550" width="42" height="42" fill="rgb(142,142,142)"/><rect x="236" y="590" width="42" height="42" fill="rgb(142,142,142)"/><rect x="276" y="590" width="42" height="42" fill="rgb(142,142,142)"/><rect x="316" y="590" width="42" height="42" fill="rgb(214,214,214)"/><rect x="356" y="590" width="42" height="42" fill="rgb(142,142,142)"/></g></mask>
<filter id="spY" filterUnits="userSpaceOnUse" x="237" y="31" width="715" height="630"><feTurbulence type="fractalNoise" baseFrequency="0.11" numOctaves="2" seed="21"/><feColorMatrix type="matrix" values="0 0 0 0 0.984  0 0 0 0 0.984  0 0 0 0 0.784  7 0 0 0 -3.4"/></filter>
<rect x="237" y="31" width="715" height="630" filter="url(#spY)" mask="url(#mkY)"/>
<mask id="mkT" maskUnits="userSpaceOnUse" x="237" y="31" width="715" height="630"><g filter="url(#blmask)"><rect x="436" y="30" width="42" height="42" fill="rgb(214,214,214)"/><rect x="716" y="30" width="42" height="42" fill="rgb(142,142,142)"/><rect x="476" y="70" width="42" height="42" fill="rgb(214,214,214)"/><rect x="676" y="70" width="42" height="42" fill="rgb(214,214,214)"/><rect x="716" y="70" width="42" height="42" fill="rgb(214,214,214)"/><rect x="396" y="110" width="42" height="42" fill="rgb(214,214,214)"/><rect x="636" y="110" width="42" height="42" fill="rgb(142,142,142)"/><rect x="676" y="110" width="42" height="42" fill="rgb(214,214,214)"/><rect x="716" y="110" width="42" height="42" fill="rgb(214,214,214)"/><rect x="316" y="150" width="42" height="42" fill="rgb(214,214,214)"/><rect x="596" y="150" width="42" height="42" fill="rgb(142,142,142)"/><rect x="596" y="230" width="42" height="42" fill="rgb(214,214,214)"/><rect x="436" y="310" width="42" height="42" fill="rgb(142,142,142)"/><rect x="556" y="310" width="42" height="42" fill="rgb(142,142,142)"/><rect x="476" y="350" width="42" height="42" fill="rgb(214,214,214)"/><rect x="516" y="350" width="42" height="42" fill="rgb(142,142,142)"/><rect x="436" y="390" width="42" height="42" fill="rgb(142,142,142)"/><rect x="396" y="470" width="42" height="42" fill="rgb(214,214,214)"/><rect x="396" y="550" width="42" height="42" fill="rgb(142,142,142)"/><rect x="396" y="590" width="42" height="42" fill="rgb(214,214,214)"/><rect x="276" y="630" width="42" height="42" fill="rgb(142,142,142)"/><rect x="316" y="630" width="42" height="42" fill="rgb(214,214,214)"/></g></mask>
<filter id="spT" filterUnits="userSpaceOnUse" x="237" y="31" width="715" height="630"><feTurbulence type="fractalNoise" baseFrequency="0.1" numOctaves="2" seed="33"/><feColorMatrix type="matrix" values="0 0 0 0 0.494  0 0 0 0 0.847  0 0 0 0 0.784  7 0 0 0 -3.4"/></filter>
<rect x="237" y="31" width="715" height="630" filter="url(#spT)" mask="url(#mkT)"/>
</g>
<polygon points="335.4,31.0 333.5,53.5 328.7,91.4 323.0,119.9 317.3,137.0 309.7,148.4 296.4,154.1 279.4,157.9 268.0,158.8 252.8,154.1 237.0,146.5 237.0,660.5 351.5,660.5 357.2,643.7 366.7,634.2 378.0,617.1 397.0,602.0 412.2,594.4 421.7,583.0 410.3,573.5 397.0,564.0 391.3,545.0 383.8,526.0 384.7,514.6 391.3,501.4 400.8,484.3 412.2,467.2 427.4,450.0 442.6,433.0 454.0,416.0 471.0,404.5 461.6,395.0 476.8,381.8 492.0,372.3 511.0,364.7 533.7,357.1 555.0,352.3 569.2,336.5 590.2,324.3 618.2,308.5 632.2,296.3 634.0,285.7 630.5,273.5 627.0,263.0 635.7,254.2 630.5,243.7 623.5,222.7 622.6,205.1 625.2,192.9 635.7,175.3 648.0,166.6 665.5,154.3 683.0,142.0 696.3,140.8 711.5,146.5 726.7,156.0 745.7,150.3 760.8,157.9 776.0,165.5 798.8,171.2 812.1,180.7 836.8,186.4 855.8,176.9 865.2,163.6 871.0,148.4 880.4,135.1 897.5,121.8 924.1,108.5 952.0,99.0 952.0,31.0" fill="none" stroke="#000" stroke-width="0" />
<polyline points="335.4,31.0 334.2,34.7 333.8,38.4 333.6,42.2 335.0,46.1 333.6,49.7 333.5,53.5 333.2,57.3 332.5,61.1 332.9,65.0 332.3,68.7 331.2,72.5 331.2,76.3 330.2,80.0 330.7,84.0 330.1,87.7 328.7,91.4 327.5,94.9 327.4,98.6 326.5,102.1 325.3,105.5 325.4,109.3 325.4,113.0 323.1,116.2 323.0,119.9 321.7,123.3 320.4,126.6 319.3,130.1 317.5,133.3 317.3,137.0 315.0,141.0 311.8,144.3 309.7,148.4 306.5,150.1 303.0,151.1 299.6,152.4 296.4,154.1 292.2,155.4 288.1,156.9 283.7,157.0 279.4,157.9 275.6,157.7 271.8,158.3 268.0,158.8 264.2,157.7 260.5,156.2 256.4,155.9 252.8,154.1 249.3,153.2 246.3,151.4 243.6,148.9 239.9,148.6 237.0,146.5" fill="none" stroke="#000" stroke-width="1.5"/>
<polyline points="351.5,660.5 351.8,656.9 352.9,653.5 354.0,650.1 355.6,646.9 357.2,643.7 360.5,640.6 364.0,637.9 366.7,634.2 368.6,630.6 371.0,627.2 373.1,623.7 375.4,620.3 378.0,617.1 381.5,615.1 384.4,612.2 387.2,609.1 390.1,606.4 394.2,605.0 397.0,602.0 401.0,600.5 404.9,598.8 408.1,595.8 412.2,594.4 414.7,591.6 417.7,589.3 419.5,586.0 421.7,583.0 419.5,579.9 415.5,578.8 413.8,575.1 410.3,573.5 406.4,571.9 403.5,568.9 399.7,567.2 397.0,564.0 396.5,560.0 395.1,556.3 394.6,552.3 393.1,548.6 391.3,545.0 390.7,540.8 388.4,537.4 387.8,533.2 385.8,529.6 383.8,526.0 383.8,522.2 385.4,518.5 384.7,514.6 386.1,511.2 387.4,507.7 388.8,504.3 391.3,501.4 393.1,497.9 394.5,494.2 397.8,491.6 399.8,488.2 400.8,484.3 402.6,480.5 404.6,477.0 407.7,474.1 409.3,470.2 412.2,467.2 414.8,464.4 417.8,461.9 419.4,458.2 422.2,455.6 425.5,453.5 427.4,450.0 429.8,447.1 432.2,444.1 435.6,442.1 438.0,439.1 440.7,436.4 442.6,433.0 445.2,429.8 447.0,426.1 449.8,423.0 452.3,419.8 454.0,416.0 457.6,414.0 460.5,410.9 463.9,408.7 467.5,406.6 471.0,404.5 468.3,400.9 464.8,398.1 461.6,395.0 464.7,392.4 468.2,390.3 470.2,386.4 473.9,384.7 476.8,381.8 479.6,379.6 482.9,378.1 486.3,376.7 488.7,373.7 492.0,372.3 496.2,371.7 499.3,368.4 503.5,367.9 507.2,366.3 511.0,364.7 514.6,362.9 518.6,362.3 522.3,360.8 526.1,359.5 530.1,358.8 533.7,357.1 537.0,355.2 540.7,355.2 544.5,355.3 547.7,353.1 551.6,353.9 555.0,352.3 556.9,349.2 560.0,347.3 561.6,343.9 564.4,341.7 566.7,339.0 569.2,336.5 572.2,333.7 576.4,332.8 579.7,330.4 583.4,328.7 586.7,326.4 590.2,324.3 593.4,322.7 596.5,320.8 599.3,318.6 603.1,318.0 605.3,314.7 609.3,314.5 612.4,312.7 615.1,310.3 618.2,308.5 621.4,306.5 624.1,303.9 626.8,301.4 629.1,298.4 632.2,296.3 632.4,292.7 633.1,289.2 634.0,285.7 632.4,281.8 632.6,277.3 630.5,273.5 629.0,270.1 627.9,266.6 627.0,263.0 629.8,259.9 633.3,257.6 635.7,254.2 633.9,250.7 632.3,247.1 630.5,243.7 628.8,240.4 627.7,236.9 626.1,233.5 625.2,229.9 624.2,226.4 623.5,222.7 624.1,219.1 623.1,215.7 622.1,212.2 622.7,208.6 622.6,205.1 622.7,200.9 624.5,197.0 625.2,192.9 627.2,189.3 630.1,186.3 631.0,182.1 634.3,179.2 635.7,175.3 638.5,172.7 642.5,171.8 645.1,169.0 648.0,166.6 650.3,163.7 654.2,163.1 656.5,160.0 659.5,158.2 662.1,155.7 665.5,154.3 668.8,152.9 670.8,149.5 674.6,148.6 677.0,145.9 680.3,144.4 683.0,142.0 687.4,141.1 691.8,140.3 696.3,140.8 699.8,143.1 703.8,144.0 708.0,144.4 711.5,146.5 714.0,149.3 717.1,151.1 721.0,151.6 724.2,153.2 726.7,156.0 730.6,155.1 734.1,153.0 738.2,153.1 741.9,151.4 745.7,150.3 749.3,152.6 753.2,154.2 756.8,156.5 760.8,157.9 764.3,160.4 768.3,161.9 772.1,163.8 776.0,165.5 779.9,166.1 783.8,166.6 787.6,167.5 791.0,170.1 795.2,169.6 798.8,171.2 802.2,173.4 805.7,175.6 808.6,178.5 812.1,180.7 815.6,181.6 819.0,183.1 822.7,183.0 826.3,183.7 829.7,185.1 833.2,186.1 836.8,186.4 840.4,185.7 842.9,182.9 846.7,182.4 849.9,181.0 853.1,179.4 855.8,176.9 857.5,173.1 860.3,170.1 863.3,167.3 865.2,163.6 867.3,160.1 867.2,155.6 869.3,152.1 871.0,148.4 873.8,145.4 876.2,142.1 878.1,138.5 880.4,135.1 882.9,132.4 886.0,130.5 888.4,127.7 891.6,125.9 894.6,123.9 897.5,121.8 901.1,120.8 904.2,118.7 907.4,116.6 910.6,114.7 913.9,113.1 917.6,112.2 920.7,110.1 924.1,108.5 927.4,106.6 931.3,106.8 934.6,105.1 938.4,104.7 941.6,102.6 945.1,101.6 948.5,100.0 952.0,99.0" fill="none" stroke="#000" stroke-width="1.5"/>
<polygon points="573.5,508.4 576.3,506.6 579.3,505.1 582.0,503.3 584.3,500.9 586.7,498.6 589.0,496.1 592.5,495.3 594.8,492.9 597.4,490.8 600.1,488.8 602.5,486.4 605.2,484.5 608.4,483.2 611.4,481.7 614.9,481.3 617.9,479.5 621.0,478.1 623.9,476.4 627.2,477.4 630.7,477.5 634.2,478.0 637.4,479.3 636.9,482.5 637.5,485.8 636.4,489.0 640.7,490.2 645.1,491.0 648.7,492.3 652.2,493.6 655.8,494.8 655.9,498.0 655.4,501.1 654.1,504.1 654.1,507.3 652.9,510.3 650.8,512.9 649.3,515.9 646.9,518.3 644.8,520.8 643.2,523.8 640.5,525.9 638.0,528.3 635.8,531.0 633.0,533.1 629.7,534.5 627.7,537.4 625.0,535.5 622.6,533.3 620.4,530.9 618.0,528.7 614.2,527.7 610.4,526.3 606.4,525.8 604.6,522.5 604.3,518.7 601.3,515.9 600.6,512.2 597.4,513.7 594.7,516.0 591.5,517.5 589.0,520.0 586.6,517.8 585.4,514.6 583.2,512.2 580.3,510.2 576.8,509.4" fill="#88dcc6" stroke="#000" stroke-width="1.5"/>
<polygon points="678.0,467.7 680.9,465.5 684.8,465.2 687.7,462.9 691.7,463.1 695.3,460.9 699.3,461.0 701.9,463.6 705.6,464.7 708.5,466.9 711.0,469.7 712.5,473.2 714.5,476.3 716.8,479.3 714.1,482.3 712.9,486.1 709.6,484.7 706.1,483.7 702.6,482.9 699.3,481.3 696.0,479.7 692.9,477.6 689.3,476.7 685.8,475.5 683.7,472.4 680.2,470.7" fill="#88dcc6" stroke="#000" stroke-width="1.5"/>
<polygon points="494.0,564.0 496.3,561.6 498.3,558.9 500.0,556.0 503.1,554.3 506.8,554.6 510.0,553.0 513.4,552.6 516.7,552.8 520.0,553.5 523.6,556.2 526.0,560.0 523.8,562.5 522.5,565.7 520.0,568.0 517.0,569.0 515.5,572.2 512.2,572.8 510.0,575.0 505.9,575.5 502.0,577.0 499.0,575.9 496.0,575.0 495.5,571.3 495.2,567.6" fill="#88dcc6" stroke="#000" stroke-width="1.5"/>
<polygon points="507.0,584.0 512.0,586.0 512.8,589.1 514.0,592.0 517.1,591.9 520.0,593.0 519.0,596.0 515.7,595.1 512.3,595.6 509.0,595.0 508.5,591.3 507.7,587.7" fill="#88dcc6" stroke="#000" stroke-width="1.5"/>
<polyline points="296.4,152.2 299.7,154.6 302.5,157.8 305.3,160.9 309.7,161.7 313.9,163.8 318.3,165.2 323.0,165.5 323.2,170.7 323.5,175.9 321.0,180.7 328.7,180.7 332.8,181.7 336.4,183.6 340.4,184.8 343.6,187.8 347.0,190.2 351.5,190.2 354.4,194.0 359.5,194.3 362.5,197.9 366.7,199.6 370.3,201.6 373.1,204.7 376.5,207.0 380.0,209.1 384.4,208.2 388.9,207.8 393.3,207.2 397.1,210.4 401.9,211.7 406.7,213.1 410.3,216.7 415.0,217.4 419.6,219.3 424.6,217.7 429.3,218.6 434.1,219.9 438.8,220.5 443.6,217.8 448.3,218.6 451.1,214.4 456.0,213.0 459.4,209.7 463.5,207.2 467.2,209.2 470.7,211.8 474.9,212.9 479.1,213.1 483.3,213.8 487.3,215.5 491.6,215.1 495.8,214.8 499.2,217.1 501.0,220.9 504.8,222.8 507.1,226.2 509.8,229.2 512.8,231.9 514.5,236.2 514.0,240.8 514.7,245.2 519.4,244.2 524.1,242.8 529.2,243.4 533.7,241.4 537.7,242.5 541.9,242.8 545.1,246.1 549.1,247.1 552.7,249.0 557.6,246.9 562.9,246.6 567.9,245.2 571.4,247.8 575.5,249.8 577.2,254.5 581.2,256.6 585.7,254.4 590.6,253.7 595.4,252.4 599.4,249.4 604.0,247.2 607.7,243.7 612.4,242.9 616.5,240.2 620.5,237.6 625.2,236.7" fill="none" stroke="#000" stroke-width="1.4"/>
<polyline points="336.3,31.6 338.2,38.3 342.5,42.2 343.9,47.8 348.4,51.0 353.4,53.5 357.9,55.5 362.9,55.4 366.9,58.3 372.0,57.2 376.2,59.2 380.5,60.8 383.5,64.4 386.9,67.4 391.4,68.7 394.1,73.5 397.0,78.2 401.4,77.7 404.7,80.4 408.4,82.0 410.3,85.7 414.0,87.6 417.5,89.7 419.8,93.3 419.6,99.0 419.8,104.7 414.8,106.3 409.7,107.4 404.6,108.5 403.2,113.5 402.2,118.7 400.8,123.7 400.8,131.3 404.2,133.6 407.6,135.8 410.3,138.9 413.9,142.1 416.0,146.5 415.0,152.2 414.1,157.9 411.4,162.7 408.4,167.4 409.4,172.1 410.3,176.9 406.7,179.9 404.9,184.1 402.6,187.9 400.8,192.1 397.9,195.3 396.6,199.1 396.6,203.4 395.1,207.2" fill="none" stroke="#000" stroke-width="1.4"/>
<polyline points="431.2,31.6 428.1,35.5 425.4,39.6 422.5,43.7 419.8,47.8 419.3,52.9 417.9,57.9 417.9,63.0 416.1,66.7 414.9,70.6 413.4,74.4 411.7,78.2 410.3,82.0" fill="none" stroke="#000" stroke-width="1.4"/>
<polyline points="419.8,93.3 424.9,92.7 429.6,93.8 433.9,97.1 438.8,97.1 443.0,96.8 447.1,96.4 450.9,94.1 454.9,92.9 459.1,92.7 463.3,92.7 467.3,91.4 468.3,87.4 471.4,84.2 472.8,80.4 475.4,77.0 474.7,72.3 476.8,68.7 482.3,67.2 486.3,63.0 485.4,58.0 485.8,52.8 484.4,47.8 488.3,45.3 492.7,43.5 496.6,41.0 499.8,37.4 503.4,34.5" fill="none" stroke="#000" stroke-width="1.4"/>
<polyline points="467.3,91.4 467.8,95.9 469.5,100.1 469.2,104.7 473.1,106.9 476.4,109.8 479.3,113.1 482.5,116.1 480.6,123.7 485.4,123.2 489.8,120.4 494.8,121.1 499.5,119.9 503.6,118.2 507.8,116.5 510.4,112.2 514.9,111.1 518.5,108.5 519.3,104.1 520.7,99.9 522.9,95.9 523.7,91.5 526.1,87.6 530.2,85.8 534.3,84.2 538.6,83.4 543.2,83.8 542.2,79.7 541.2,75.6 541.2,71.4 540.4,67.3 541.3,63.0 545.2,60.0 546.5,55.1 549.1,51.1 552.7,47.8 554.5,43.9 556.1,40.0 558.3,36.4 560.3,32.6" fill="none" stroke="#000" stroke-width="1.4"/>
<polyline points="543.2,83.8 547.8,82.2 552.7,82.6 557.3,81.3 562.2,82.0 566.3,82.8 569.6,85.6 573.1,87.9 576.6,89.9 581.2,89.5 582.6,93.9 585.8,97.5 586.6,102.2 587.9,106.6 590.7,110.4 594.2,113.2 596.6,117.2 600.2,119.9 602.0,124.5 606.2,127.4 609.0,131.3 604.5,133.4 599.8,134.6 595.2,136.3 590.0,135.1" fill="none" stroke="#000" stroke-width="1.4"/>
<polyline points="518.5,108.5 520.0,112.4 521.6,116.3 521.7,120.7 524.2,124.3 526.7,127.8 526.2,132.5 529.5,135.7 530.0,140.0 533.3,143.4 537.4,145.7 539.9,150.0 543.6,153.0 548.0,155.0 551.3,159.2 554.8,163.1 560.0,165.0" fill="none" stroke="#000" stroke-width="1.4"/>
<polyline points="400.8,131.3 405.0,131.6 409.0,132.4 412.2,135.6 415.7,138.0 420.0,138.0 424.1,138.9 428.1,138.6 432.0,136.5 435.9,135.4 440.0,136.0 443.9,137.8 448.0,137.2 452.1,136.6 456.2,136.0 460.0,138.0 463.8,139.9 468.1,139.4 472.2,140.2 476.0,142.0 479.4,145.7 482.0,150.0 479.1,153.8 476.0,157.5 473.2,161.4 470.0,165.0 473.5,168.8 474.6,174.1 478.0,178.0 475.0,181.9 475.1,186.9 474.2,191.6 472.4,195.9 470.0,200.0 465.4,202.4 463.5,207.2" fill="none" stroke="#000" stroke-width="1.4"/>
<polyline points="482.0,150.0 486.5,149.9 491.0,148.8 495.5,148.3 500.0,148.0 503.9,150.3 507.5,152.9 511.2,155.6 515.7,156.6 520.0,158.0 523.0,160.7 527.2,161.9 529.5,165.7 532.7,168.3 536.9,169.3 540.0,172.0 542.2,176.4 543.1,181.4 545.1,185.9 548.0,190.0 545.9,194.4 544.4,199.0 543.6,203.6 544.6,208.6 548.0,212.3 551.8,215.5 555.1,219.2 560.3,220.6 565.6,220.9 570.8,219.7 576.2,219.2 577.9,214.7 579.8,210.4 583.2,206.9 587.4,204.5 591.7,204.0 596.2,204.6 600.7,205.1 604.2,201.6" fill="none" stroke="#000" stroke-width="1.4"/>
<polyline points="612.8,31.6 615.4,35.9 619.0,39.3 622.0,43.3 624.2,47.8 625.9,52.7 625.7,57.9 626.1,63.0 628.6,66.9 629.3,71.4 630.4,75.7 631.8,80.0 636.1,83.0 641.3,83.8 646.3,85.3 651.0,87.7 656.4,87.6 661.9,87.9 666.4,84.5 671.6,83.8 676.3,82.6 681.1,82.0 682.4,77.5 682.8,72.9 685.0,68.6 683.2,63.6 684.9,59.2 682.6,55.6 681.9,51.4 679.6,47.8 678.6,43.7 678.1,39.5 678.1,35.1 675.4,31.6" fill="none" stroke="#000" stroke-width="1.4"/>
<polyline points="684.9,59.2 688.0,63.8 690.6,68.7 694.9,68.4 699.0,66.7 703.3,65.9 707.7,66.8 712.7,66.5 717.1,69.4 722.0,69.2 726.7,70.6 727.0,65.7 727.1,60.8 728.9,56.2 730.5,51.6 731.4,47.6 731.4,43.5 732.0,39.5 731.7,35.3 734.3,31.6" fill="none" stroke="#000" stroke-width="1.4"/>
<polyline points="726.7,70.6 729.7,73.8 730.4,77.9 730.4,82.3 732.3,85.9 734.3,89.5 737.4,93.1 740.0,97.1 736.2,100.1 735.5,105.1 732.4,108.5 731.5,112.5 728.5,115.7 727.0,119.5 726.7,123.7 722.8,125.9 719.3,128.5 717.3,132.9 713.4,135.1 711.7,140.1 708.5,143.9 703.9,146.5" fill="none" stroke="#000" stroke-width="1.4"/>
<polyline points="736.2,104.7 740.2,107.1 744.8,108.4 749.0,110.5 752.9,113.0 757.5,114.4 760.8,118.0 764.9,119.1 769.4,119.3 773.2,121.5 777.2,123.0 781.0,125.4 785.4,125.7 789.3,127.5 793.6,125.2 798.0,123.3 802.6,121.8" fill="none" stroke="#000" stroke-width="1.4"/>
<polyline points="641.3,83.8 638.7,88.3 637.5,93.3 641.4,97.6 647.0,99.0 643.8,103.6 641.3,108.5 637.2,110.4 633.2,112.8 629.0,114.2 624.2,114.2 623.3,119.1 621.0,123.3 618.5,127.5 613.5,128.8 609.0,131.3" fill="none" stroke="#000" stroke-width="1.4"/>
<polyline points="647.0,100.9 652.0,100.7 656.9,100.8 661.6,101.5 665.9,104.7 669.7,107.1 672.9,110.3 677.3,111.9 681.1,114.2 684.4,117.4 686.2,121.9 691.0,123.8 693.3,127.9 696.3,131.3" fill="none" stroke="#000" stroke-width="1.4"/>
<polyline points="757.0,70.6 761.0,71.5 764.6,73.5 768.0,75.8 772.2,76.3 776.4,78.6 779.4,82.5 783.3,85.2 787.4,87.6 786.8,92.2 786.1,96.7 786.7,101.3 785.7,105.8 787.4,110.4 792.1,111.3 796.0,113.6 799.2,116.9 802.6,119.9 806.9,122.1 811.9,120.5 816.6,120.2 821.0,121.8 825.4,123.7 829.0,120.3 832.5,116.7 836.8,114.2 841.4,114.0 845.9,113.8 850.6,114.7 855.0,112.8 859.5,112.3 862.7,115.5 866.6,117.2 871.0,118.0 873.0,122.1 875.9,125.6 878.5,129.4 880.4,135.1" fill="none" stroke="#000" stroke-width="1.4"/>
<polyline points="802.6,119.9 801.2,123.7 800.3,127.7 799.3,131.7 796.9,135.1 799.4,139.3 801.1,143.8 802.6,148.4 803.4,152.9 800.8,156.7 800.9,161.1 800.9,165.4 798.8,169.3 802.4,171.4 805.9,173.6 808.8,176.4 810.2,180.7" fill="none" stroke="#000" stroke-width="1.4"/>
<polyline points="787.4,87.6 789.9,83.5 793.1,80.0 791.5,76.0 790.8,71.8 792.5,67.5 792.0,63.3 791.2,59.2 787.0,59.2 783.9,55.9 779.8,55.4 781.7,51.7 783.6,48.0 784.5,44.0 785.6,40.0 787.6,36.4 789.3,32.6" fill="none" stroke="#000" stroke-width="1.4"/>
<polyline points="793.1,80.0 797.6,80.1 801.4,77.2 805.6,75.6 810.2,76.3 809.9,71.9 811.1,67.7 811.2,63.4 812.1,59.2 816.6,57.2 820.2,53.7 824.5,51.3 829.2,49.7 833.5,49.7 837.4,48.5 841.3,47.4 844.4,44.0 848.2,41.7 852.4,40.3 856.9,39.9 860.9,38.3 865.0,36.5 869.1,35.1 872.8,32.6" fill="none" stroke="#000" stroke-width="1.4"/>
<polyline points="859.5,112.3 863.4,109.8 867.0,106.9 871.6,105.3 874.6,101.5 878.5,99.0 876.3,95.5 874.1,92.1 871.9,88.7 869.4,85.5 865.3,83.6 863.3,80.0 862.8,75.6 864.6,71.5 864.2,67.2 865.2,63.0 867.7,59.7 870.5,56.6 874.7,55.4 875.6,50.3 876.0,45.3 874.7,40.2 876.6,36.4 878.5,32.6" fill="none" stroke="#000" stroke-width="1.4"/>
<polyline points="874.7,55.4 878.0,57.8 881.4,60.1 883.8,63.4 886.1,66.8 889.2,70.0 893.3,70.8 897.0,72.7 901.2,73.2 905.1,74.4 910.0,75.3 914.8,75.3 919.3,72.7 924.1,72.5 928.1,76.5 929.8,82.0 927.6,85.9 924.9,89.4 922.5,93.2 920.3,97.1 919.6,101.5 916.5,104.7" fill="none" stroke="#000" stroke-width="1.4"/>
<polyline points="450.0,220.9 454.1,221.5 458.1,220.0 462.3,221.4 466.4,221.4 470.4,219.4 474.5,219.2 479.3,220.1 484.1,218.0 489.0,219.6 493.8,219.2 498.0,221.4 503.1,221.4 507.0,224.4 511.3,226.2 513.0,230.4 512.3,234.9 512.3,239.4 513.1,243.7" fill="none" stroke="#000" stroke-width="1.4"/>
<polyline points="600.7,243.7 600.1,247.9 598.7,251.8 597.6,255.7 596.5,259.8 595.2,263.7 593.2,267.3 590.8,270.9 590.0,275.0 591.2,279.2 591.2,283.8 593.9,287.5 594.3,292.0 595.3,296.3 598.0,300.0" fill="none" stroke="#000" stroke-width="1.4"/>
<polyline points="461.3,94.6 461.1,99.1 462.6,103.3 463.0,107.7 465.7,111.6 466.7,115.9 467.5,120.2 468.8,124.5 473.5,123.9 478.0,124.7 482.3,126.6 486.8,127.0 491.2,128.2 488.3,131.5 486.5,135.4 485.6,139.9 483.1,143.4 479.5,146.3 478.5,150.7 476.3,154.4" fill="none" stroke="#000" stroke-width="1.4"/>
<polyline points="521.1,102.0 525.3,100.3 528.5,97.0 531.8,93.7 535.9,91.8 540.5,90.6 543.5,87.1 547.7,85.9 551.9,84.2 556.2,84.5 560.5,83.8 565.0,85.4 569.4,85.5 573.4,83.3 574.6,88.0 578.9,90.0 581.5,93.5 584.4,96.7 587.3,99.9 590.1,103.1 593.7,105.7 595.9,109.5 600.4,112.0 602.0,116.9 605.7,120.0 607.3,124.9 610.8,128.2 614.7,130.4 617.7,134.1 622.5,135.0 626.5,137.1 629.3,141.0 633.3,143.1" fill="none" stroke="#000" stroke-width="1.4"/>
<polyline points="872.5,120.7 870.8,124.8 871.1,129.1 872.5,133.5 869.8,137.5 868.3,141.5 869.1,145.9 868.3,150.1 868.8,154.4 872.6,156.3 874.9,160.1 878.3,162.5 881.2,165.6 885.6,166.7 888.5,169.8 891.2,173.1" fill="none" stroke="#000" stroke-width="1.4"/>
<polyline points="394.0,199.2 396.6,195.5 395.6,190.6 395.9,186.2 397.7,182.2 400.7,178.6 400.7,174.1 403.0,170.2 405.0,166.3 405.2,161.8 409.6,160.5 414.2,160.1 418.1,157.2 422.4,155.8 427.2,156.3 431.4,154.4 432.6,150.1 434.3,146.1 437.3,142.9 440.9,140.0 441.5,135.3 444.0,131.8 446.3,128.2" fill="none" stroke="#000" stroke-width="1.4"/>
<polyline points="446.3,154.4 450.8,155.8 454.1,158.9 458.0,161.1 461.4,164.2 464.3,167.9 468.8,169.3 465.4,171.8 462.9,175.3 459.4,177.6 455.1,179.0 453.0,182.9 450.1,186.0 446.3,188.0 446.8,192.9 449.5,196.9 451.8,201.1 453.0,205.7 453.8,210.4" fill="none" stroke="#000" stroke-width="1.4"/>
<polyline points="476.3,154.4 480.8,155.1 484.6,158.1 489.3,158.5 493.4,160.6 497.8,161.9 501.5,164.9 506.2,165.6 510.9,164.7 515.1,162.5 519.5,160.8 524.2,159.9 528.6,158.1 532.5,160.9 534.5,164.8 535.9,169.1 538.5,172.7 541.4,176.1 542.9,180.3 543.8,185.0 547.3,188.0 545.4,191.8 544.4,195.9 541.5,199.1 538.7,202.4 538.6,207.0 536.1,210.4" fill="none" stroke="#000" stroke-width="1.4"/>
<polyline points="506.2,165.6 505.2,170.3 502.0,174.2 499.8,178.4 500.2,183.5 498.7,188.0 495.2,190.4 491.7,192.7 487.0,192.7 483.8,195.6 479.4,196.1 476.3,199.2 474.1,202.7 471.7,206.1 470.5,209.9 470.3,214.2 468.8,217.9" fill="none" stroke="#000" stroke-width="1.4"/>
<polyline points="323.0,150.6 324.0,154.8 325.1,159.0 325.6,163.3 324.9,167.7 325.8,172.0 327.6,176.1 326.7,180.5 330.8,182.1 334.8,184.0 339.1,184.2 343.6,184.1 347.6,186.1 351.7,187.1 356.0,187.7 360.4,188.0 362.8,191.7 365.5,195.1 368.6,198.3 370.1,202.5 371.6,206.7 376.3,206.3 380.4,209.1 384.8,210.6 389.5,209.8 394.0,210.4 396.8,206.7 401.3,205.7 405.6,204.3 409.0,201.5 412.7,199.2" fill="none" stroke="#000" stroke-width="1.4"/>
<polyline points="513.6,225.4 516.2,228.8 518.2,232.5 520.3,236.1 521.1,240.3 525.4,238.0 529.7,240.6 533.9,239.3 538.2,238.6 542.5,240.1 546.7,239.7 551.0,240.3 551.5,235.9 552.9,232.0 555.8,228.7 558.5,225.4 562.5,224.0 566.5,222.4 571.0,223.2 575.3,223.0 579.3,221.6 583.6,221.3 587.5,219.4 591.5,217.8 595.9,217.9 599.0,214.2 603.2,212.1 607.5,210.1 610.8,206.7" fill="none" stroke="#000" stroke-width="1.4"/>
<polyline points="509.9,229.1 510.3,233.9 512.5,238.3 512.3,243.2 513.6,247.8 517.7,245.0 522.4,244.1 527.5,244.5 531.6,242.0 536.1,240.3" fill="none" stroke="#000" stroke-width="1.4"/>
<path d="M305.0 117.0 C314.7 117.5 340.7 118.2 363.0 120.0 C385.3 121.8 415.3 125.7 439.0 127.5 C462.7 129.3 490.8 128.5 505.0 131.0 C519.2 133.5 517.7 137.6 524.0 142.7 C530.3 147.8 535.5 157.3 543.0 161.7 C550.5 166.1 564.8 167.9 569.2 169.2" fill="none" stroke="#808080" stroke-width="5" stroke-linecap="butt" stroke-linejoin="round"/>
<path d="M298.0 137.0 C305.7 136.5 326.8 135.0 344.0 134.0 C361.2 133.0 378.8 130.5 401.0 131.0 C423.2 131.5 458.0 134.4 477.0 137.0 C496.0 139.6 504.0 141.8 515.0 146.5 C526.0 151.2 534.0 161.7 543.0 165.5 C552.0 169.3 564.8 168.6 569.2 169.2" fill="none" stroke="#808080" stroke-width="5" stroke-linecap="butt" stroke-linejoin="round"/>
<path d="M569.2 169.2 C568.0 170.8 564.9 174.2 562.0 179.0 C559.1 183.8 555.5 190.7 552.0 198.0 C548.5 205.3 544.3 213.0 541.0 223.0 C537.7 233.0 537.0 247.8 532.0 258.0 C527.0 268.2 518.0 276.2 511.0 284.0 C504.0 291.8 494.3 298.3 490.0 305.0 C485.7 311.7 485.8 320.8 485.0 324.0" fill="none" stroke="#808080" stroke-width="5" stroke-linecap="butt" stroke-linejoin="round"/>
<path d="M569.2 169.2 C570.3 174.0 574.2 183.2 576.0 198.0 C577.8 212.8 579.7 236.3 580.0 258.0 C580.3 279.7 579.2 310.5 578.0 328.0 C576.8 345.5 575.3 351.3 573.0 363.0 C570.7 374.7 565.8 386.0 564.0 398.0 C562.2 410.0 568.7 419.3 562.0 435.0 C555.3 450.7 535.0 476.2 524.0 492.0 C513.0 507.8 503.8 519.0 496.0 530.0 C488.2 541.0 483.3 547.0 477.0 558.0 C470.7 569.0 466.0 583.3 458.0 596.0 C450.0 608.7 437.8 624.5 429.0 634.0 C420.2 643.5 409.0 649.8 405.0 653.0" fill="none" stroke="#808080" stroke-width="5" stroke-linecap="butt" stroke-linejoin="round"/>
<path d="M569.2 169.2 C570.3 175.2 575.4 187.4 576.0 205.0 C576.6 222.6 575.3 254.5 573.0 275.0 C570.7 295.5 566.5 310.5 562.0 328.0 C557.5 345.5 550.7 368.5 546.0 380.0 C541.3 391.5 540.8 388.8 534.0 397.0 C527.2 405.2 514.5 417.0 505.0 429.0 C495.5 441.0 486.5 453.8 477.0 469.0 C467.5 484.2 457.5 504.2 448.0 520.0 C438.5 535.8 428.8 551.7 420.0 564.0 C411.2 576.3 399.2 589.0 395.0 594.0" fill="none" stroke="#808080" stroke-width="5" stroke-linecap="butt" stroke-linejoin="round"/>
<path d="M569.2 169.2 C571.0 175.2 575.9 190.2 580.0 205.0 C584.1 219.8 590.8 243.3 594.0 258.0 C597.2 272.7 597.8 278.5 599.0 293.0 C600.2 307.5 601.3 327.7 601.0 345.0 C600.7 362.3 600.3 383.7 597.0 397.0 C593.7 410.3 590.0 412.3 581.0 425.0 C572.0 437.7 557.2 458.7 543.0 473.0 C528.8 487.3 510.2 498.3 496.0 511.0 C481.8 523.7 467.5 536.3 458.0 549.0 C448.5 561.7 447.0 571.8 439.0 587.0 C431.0 602.2 414.8 631.2 410.0 640.0" fill="none" stroke="#808080" stroke-width="5" stroke-linecap="butt" stroke-linejoin="round"/>
<path d="M569.2 169.2 C571.5 175.8 578.0 196.5 583.0 209.0 C588.0 221.5 593.7 233.0 599.0 244.0 C604.3 255.0 608.8 267.5 615.0 275.0 C621.2 282.5 632.0 284.7 636.0 289.0 C640.0 293.3 640.8 294.5 639.0 301.0 C637.2 307.5 632.5 319.2 625.0 328.0 C617.5 336.8 606.8 345.3 594.0 354.0 C581.2 362.7 560.3 372.3 548.0 380.0 C535.7 387.7 524.7 396.7 520.0 400.0" fill="none" stroke="#808080" stroke-width="5" stroke-linecap="butt" stroke-linejoin="round"/>
<path d="M569.2 169.2 C577.7 176.8 600.2 199.2 620.0 215.0 C639.8 230.8 657.7 241.9 688.0 263.7 C718.3 285.5 773.5 326.7 802.0 345.7 C830.5 364.7 843.8 369.9 859.0 377.5 C874.2 385.1 883.5 385.8 893.0 391.0 C902.5 396.2 909.5 402.2 916.0 409.0 C922.5 415.8 929.3 428.2 932.0 432.0" fill="none" stroke="#808080" stroke-width="5" stroke-linecap="butt" stroke-linejoin="round"/>
<path d="M569.2 169.2 C569.5 172.3 570.7 179.0 571.0 188.0 C571.3 197.0 571.7 211.3 571.0 223.0 C570.3 234.7 568.2 246.3 567.0 258.0 C565.8 269.7 565.7 278.5 564.0 293.0 C562.3 307.5 559.5 327.7 557.0 345.0 C554.5 362.3 555.5 377.7 549.0 397.0 C542.5 416.3 530.0 437.3 518.0 461.0 C506.0 484.7 490.2 520.0 477.0 539.0 C463.8 558.0 451.7 563.0 439.0 575.0 C426.3 587.0 413.7 600.2 401.0 611.0 C388.3 621.8 375.7 632.0 363.0 640.0 C350.3 648.0 331.3 655.8 325.0 659.0" fill="none" stroke="#f0f921" stroke-width="5" stroke-linecap="butt" stroke-linejoin="round"/>
<path d="M569.2 169.2 C569.8 172.3 571.2 176.2 573.0 188.0 C574.8 199.8 577.7 222.5 580.0 240.0 C582.3 257.5 585.3 275.5 587.0 293.0 C588.7 310.5 590.0 327.7 590.0 345.0 C590.0 362.3 590.7 375.7 587.0 397.0 C583.3 418.3 576.8 450.8 568.0 473.0 C559.2 495.2 542.8 516.7 534.0 530.0 C525.2 543.3 522.0 545.2 515.0 553.0 C508.0 560.8 499.0 568.8 492.0 577.0 C485.0 585.2 485.0 594.7 473.0 602.0 C461.0 609.3 438.3 614.0 420.0 621.0 C401.7 628.0 377.0 638.3 363.0 644.0 C349.0 649.7 340.5 653.2 336.0 655.0" fill="none" stroke="#f0f921" stroke-width="5" stroke-linecap="butt" stroke-linejoin="round"/>
<path d="M569.2 169.2 C570.3 172.3 570.2 173.2 576.0 188.0 C581.8 202.8 596.3 239.2 604.0 258.0 C611.7 276.8 617.0 287.8 622.0 301.0 C627.0 314.2 631.2 324.0 634.0 337.0 C636.8 350.0 638.5 364.0 639.0 379.0 C639.5 394.0 639.2 412.5 637.0 427.0 C634.8 441.5 630.5 453.2 626.0 466.0 C621.5 478.8 615.2 491.2 610.0 504.0 C604.8 516.8 601.7 532.3 595.0 543.0 C588.3 553.7 574.2 563.8 570.0 568.0" fill="none" stroke="#f0f921" stroke-width="5" stroke-linecap="butt" stroke-linejoin="round"/>
<path d="M569.2 169.2 C570.3 171.3 572.5 173.0 576.0 182.0 C579.5 191.0 584.7 208.8 590.0 223.0 C595.3 237.2 602.2 252.5 608.0 267.0 C613.8 281.5 619.8 294.0 625.0 310.0 C630.2 326.0 636.0 348.3 639.0 363.0 C642.0 377.7 643.8 387.3 643.0 398.0 C642.2 408.7 637.2 417.3 634.0 427.0 C630.8 436.7 627.0 447.3 624.0 456.0 C621.0 464.7 618.3 469.3 616.0 479.0 C613.7 488.7 611.3 500.0 610.0 514.0 C608.7 528.0 608.3 554.8 608.0 563.0" fill="none" stroke="#fdab33" stroke-width="5" stroke-linecap="butt" stroke-linejoin="round"/>
<path d="M569.2 169.2 C571.0 170.8 575.0 171.5 580.0 179.0 C585.0 186.5 592.9 200.8 599.0 214.0 C605.1 227.2 611.5 243.4 616.5 258.0 C621.5 272.6 624.6 287.0 629.0 301.5 C633.4 316.0 639.5 328.9 643.0 345.0 C646.5 361.1 647.3 377.8 650.0 398.0 C652.7 418.2 656.6 446.7 659.0 466.0 C661.4 485.3 663.0 495.0 664.5 514.0 C666.0 533.0 667.4 569.0 668.0 580.0" fill="none" stroke="#f07f4f" stroke-width="5" stroke-linecap="butt" stroke-linejoin="round"/>
<path d="M569.2 169.2 C574.3 178.3 589.2 207.5 600.0 224.0 C610.8 240.5 619.3 245.5 634.0 268.0 C648.7 290.5 669.5 333.5 688.0 359.0 C706.5 384.5 726.0 399.3 745.0 421.0 C764.0 442.7 786.8 470.1 802.0 489.0 C817.2 507.9 825.2 518.7 836.4 534.7 C847.6 550.7 863.9 576.4 869.4 584.8" fill="none" stroke="#d9586a" stroke-width="6" stroke-linecap="butt" stroke-linejoin="round"/>
<path d="M569.2 169.2 C575.2 177.7 590.9 202.0 605.0 220.0 C619.1 238.0 636.3 258.7 654.0 277.0 C671.7 295.3 684.3 307.6 711.0 329.7 C737.7 351.8 785.5 386.2 814.0 409.4 C842.5 432.5 860.6 451.1 882.0 468.6 C903.4 486.1 932.2 506.6 942.3 514.2" fill="none" stroke="#bb3488" stroke-width="5" stroke-linecap="butt" stroke-linejoin="round"/>
<path d="M569.2 169.2 C574.3 178.0 589.2 206.2 600.0 222.0 C610.8 237.8 619.3 244.2 634.0 264.0 C648.7 283.8 669.5 316.8 688.0 341.0 C706.5 365.2 726.0 386.2 745.0 409.0 C764.0 431.8 781.1 455.2 802.0 478.0 C822.9 500.8 846.9 522.9 870.5 546.0 C894.1 569.1 931.2 604.9 943.4 616.7" fill="none" stroke="#bb3488" stroke-width="5.5" stroke-linecap="butt" stroke-linejoin="round"/>
<path d="M569.2 169.2 C574.5 178.3 589.5 207.1 601.0 224.0 C612.5 240.9 621.5 248.3 638.0 270.5 C654.5 292.7 680.2 330.8 700.0 357.0 C719.8 383.2 738.0 404.4 757.0 427.6 C776.0 450.8 798.8 477.0 814.0 496.0 C829.2 515.0 836.1 525.6 848.0 541.5 C859.9 557.4 879.1 583.2 885.3 591.6" fill="none" stroke="#bb3488" stroke-width="5" stroke-linecap="butt" stroke-linejoin="round"/>
<path d="M275.6 123.7 C283.2 125.0 306.4 129.1 321.0 131.3 C335.6 133.5 349.7 136.1 363.0 137.0 C376.3 137.9 391.5 137.3 401.0 137.0 C410.5 136.7 409.0 136.0 420.0 135.0 C431.0 134.0 454.3 130.3 467.0 131.0 C479.7 131.7 484.8 134.5 496.0 139.0 C507.2 143.5 521.8 153.0 534.0 158.0 C546.2 163.0 563.3 167.3 569.2 169.2" fill="none" stroke="#9410a2" stroke-width="5.5" stroke-linecap="butt" stroke-linejoin="round"/>
<path d="M310.0 119.0 C318.8 119.5 344.7 121.2 363.0 122.0 C381.3 122.8 404.2 123.4 420.0 123.7 C435.8 124.0 445.3 123.1 458.0 123.7 C470.7 124.3 486.5 125.6 496.0 127.5 C505.5 129.4 508.7 131.2 515.0 135.0 C521.3 138.8 525.0 144.3 534.0 150.0 C543.0 155.7 563.3 166.0 569.2 169.2" fill="none" stroke="#9410a2" stroke-width="5.5" stroke-linecap="butt" stroke-linejoin="round"/>
<path d="M325.0 126.0 C334.2 126.5 360.8 128.7 380.0 129.0 C399.2 129.3 423.3 128.2 440.0 128.0 C456.7 127.8 469.2 127.0 480.0 128.0 C490.8 129.0 496.7 130.0 505.0 134.0 C513.3 138.0 519.3 146.1 530.0 152.0 C540.7 157.9 562.7 166.3 569.2 169.2" fill="none" stroke="#9410a2" stroke-width="5.5" stroke-linecap="butt" stroke-linejoin="round"/>
<path d="M569.2 169.2 C576.3 176.3 593.7 197.4 612.0 212.0 C630.3 226.6 645.3 232.8 679.0 257.0 C712.7 281.2 780.2 333.5 814.0 357.0 C847.8 380.5 865.3 386.2 882.0 398.0 C898.7 409.8 904.2 416.6 914.0 427.6 C923.8 438.6 936.5 457.9 941.0 464.0" fill="none" stroke="#9410a2" stroke-width="5" stroke-linecap="butt" stroke-linejoin="round"/>
<path d="M569.2 169.2 C574.8 177.7 590.0 202.7 603.0 220.0 C616.0 237.3 629.0 252.1 647.0 273.0 C665.0 293.9 689.0 321.1 711.0 345.7 C733.0 370.3 756.2 398.1 779.0 420.8 C801.8 443.5 827.0 463.8 848.0 482.0 C869.0 500.2 889.1 516.3 905.0 530.0 C920.9 543.7 937.0 558.6 943.4 564.3" fill="none" stroke="#9410a2" stroke-width="5" stroke-linecap="butt" stroke-linejoin="round"/>
<path d="M495.0 127.0 C498.3 128.3 508.5 131.2 515.0 135.0 C521.5 138.8 527.8 145.5 534.0 150.0 C540.2 154.5 546.1 158.8 552.0 162.0 C557.9 165.2 566.3 168.0 569.2 169.2" fill="none" stroke="#6400a7" stroke-width="5.5" stroke-linecap="butt" stroke-linejoin="round"/>
<path d="M569.2 169.2 C576.0 176.8 594.0 198.9 610.0 215.0 C626.0 231.1 643.0 247.3 665.5 266.0 C688.0 284.7 718.4 306.9 745.0 327.0 C771.6 347.1 807.2 372.1 825.0 386.6 C842.8 401.1 840.7 403.8 852.0 414.0 C863.3 424.2 879.1 435.1 893.0 448.0 C906.9 460.9 928.3 484.2 935.4 491.4" fill="none" stroke="#6400a7" stroke-width="5" stroke-linecap="butt" stroke-linejoin="round"/>
<path d="M569.2 169.2 C576.8 176.0 600.5 196.5 615.0 210.0 C629.5 223.5 636.2 235.0 656.0 250.0 C675.8 265.0 707.7 282.9 734.0 300.0 C760.3 317.1 793.2 338.8 814.0 352.5 C834.8 366.2 846.9 373.6 859.0 382.0 C871.1 390.4 879.7 395.4 886.5 402.6 C893.3 409.8 897.8 421.6 900.0 425.4" fill="none" stroke="#1a0790" stroke-width="7.5" stroke-linecap="butt" stroke-linejoin="round"/>
<path d="M569.2 169.2 C575.7 177.3 592.7 199.6 608.0 218.0 C623.3 236.4 640.0 259.9 661.0 279.6 C682.0 299.4 710.5 316.0 734.0 336.5 C757.5 357.0 779.2 381.7 802.0 402.6 C824.8 423.5 846.8 444.4 870.5 461.8 C894.2 479.2 932.2 499.7 944.5 507.3" fill="none" stroke="#1a0790" stroke-width="7.5" stroke-linecap="butt" stroke-linejoin="round"/>
<path d="M276.0 124.0 C280.0 124.7 291.0 126.8 300.0 128.0 C309.0 129.2 325.0 130.5 330.0 131.0" fill="none" stroke="#bb3489" stroke-width="5.5" stroke-linecap="butt" stroke-linejoin="round"/>
<path d="M310.0 119.0 L330.0 121.0" fill="none" stroke="#bb3489" stroke-width="5.5" stroke-linecap="butt" stroke-linejoin="round"/>
<path d="M569.2 169.2 C574.7 177.3 589.7 201.5 602.0 218.0 C614.3 234.5 625.5 245.2 643.0 268.0 C660.5 290.8 685.3 326.8 707.0 355.0 C728.7 383.2 749.2 410.5 773.0 437.0 C796.8 463.5 828.8 495.2 850.0 514.0 C871.2 532.8 884.4 539.3 900.0 550.0 C915.6 560.7 936.2 573.3 943.4 578.0" fill="none" stroke="#3a0599" stroke-width="5.5" stroke-linecap="butt" stroke-linejoin="round"/>
<line x1="318.4" y1="103.8" x2="569.2" y2="169.2" stroke="#000" stroke-width="7.3" stroke-dasharray="26,11"/>
<line x1="569.2" y1="169.2" x2="934.5" y2="419.3" stroke="#000" stroke-width="7.3" stroke-dasharray="26,11"/>
<line x1="569.2" y1="169.2" x2="651" y2="543.2" stroke="#000" stroke-width="7.3" stroke-dasharray="26,11"/>
</g>
<rect x="237.0" y="31.0" width="715.0" height="629.5" fill="none" stroke="#000" stroke-width="1.4"/>
<text x="327.71" y="103.0" font-size="46.8" textLength="30.91" lengthAdjust="spacingAndGlyphs" fill="#000" stroke="#000" stroke-width="0.55">A</text>
<text x="577.50" y="168.3" font-size="46.8" textLength="34.37" lengthAdjust="spacingAndGlyphs" fill="#000" stroke="#000" stroke-width="0.55">D</text>
<text x="942.33" y="419.3" font-size="46.8" textLength="29.81" lengthAdjust="spacingAndGlyphs" fill="#000" stroke="#000" stroke-width="0.55">B</text>
<text x="658.43" y="542.2" font-size="46.8" textLength="30.84" lengthAdjust="spacingAndGlyphs" fill="#000" stroke="#000" stroke-width="0.55">C</text>
<rect x="252.3" y="46.4" width="69.7" height="56.4" fill="#fff" stroke="#000" stroke-width="1.6"/>
<text x="266.08" y="83.9" font-size="31.6" textLength="42.13" lengthAdjust="spacingAndGlyphs" fill="#000" stroke="#000" stroke-width="0.12">(a)</text>
<rect x="1101.25" y="31.1" width="733.5" height="629.6" fill="#cccccc"/>
<defs><clipPath id="bclip"><rect x="1101.25" y="31.1" width="733.55" height="629.6"/></clipPath></defs>
<g clip-path="url(#bclip)">
<polygon points="1101.2,660.7 1101.7,203.6 1117.7,209.4 1128.0,193.4 1139.7,205.0 1148.4,210.9 1154.3,200.7 1165.9,213.8 1168.9,231.3 1186.4,229.9 1199.5,244.5 1212.7,218.2 1221.4,240.1 1236.0,231.3 1253.6,248.9 1271.1,243.0 1284.2,269.3 1297.4,264.9 1317.8,260.5 1329.5,275.1 1347.0,297.1 1358.7,272.2 1379.2,286.8 1411.3,272.2 1420.1,285.4 1428.8,279.5 1452.2,286.8 1458.0,272.2 1460.0,275.1 1477.5,281.0 1487.7,298.5 1493.6,286.8 1500.9,304.4 1515.5,272.2 1525.7,253.2 1531.6,286.8 1541.8,270.8 1559.3,307.3 1571.0,336.5 1579.8,313.1 1585.6,324.8 1600.2,304.4 1614.8,321.9 1629.4,337.9 1641.1,333.6 1649.9,307.3 1658.6,324.8 1676.1,307.3 1682.0,342.3 1690.7,323.3 1708.3,342.3 1717.0,362.8 1725.8,352.6 1734.6,371.5 1743.3,358.4 1763.8,380.3 1767.1,380.0 1773.9,396.9 1784.1,425.8 1795.9,447.8 1807.8,461.4 1818.0,451.2 1824.7,422.4 1833.2,398.6 1834.8,396.9 1834.8,396.9 1834.8,660.7" fill="#009f00"/>
<polygon points="1101.2,660.7 1101.7,269.3 1117.7,276.6 1128.0,247.4 1148.4,266.4 1157.2,295.6 1168.9,283.9 1183.5,307.3 1192.2,301.4 1203.9,304.4 1215.6,316.0 1221.4,302.9 1233.1,321.9 1244.8,319.0 1253.6,327.7 1274.0,354.0 1288.6,342.3 1309.1,345.2 1329.5,356.9 1347.0,365.7 1358.7,348.2 1379.2,352.6 1393.8,345.2 1411.3,348.2 1431.7,364.2 1452.2,354.0 1460.0,351.1 1468.8,348.2 1483.4,362.8 1498.0,371.5 1506.7,359.9 1515.5,349.6 1521.3,374.5 1527.2,356.9 1535.9,380.3 1546.2,354.0 1556.4,386.1 1571.0,409.5 1582.7,374.5 1600.2,359.9 1614.8,415.3 1623.6,386.1 1635.2,392.0 1649.9,377.4 1661.5,386.1 1676.1,356.9 1684.9,386.1 1690.7,377.4 1714.1,403.7 1728.7,397.8 1740.0,398.6 1750.2,405.4 1762.0,419.0 1773.9,430.8 1785.8,452.9 1795.9,474.9 1804.4,495.3 1811.2,508.8 1819.7,495.3 1826.4,447.8 1833.2,424.1 1834.8,422.4 1834.8,422.4 1834.8,660.7" fill="#00aa95"/>
<polygon points="1101.2,660.7 1101.7,349.6 1117.7,361.3 1128.0,345.2 1163.0,342.3 1174.7,371.5 1206.8,383.2 1215.6,394.9 1236.0,387.6 1253.6,418.3 1271.1,424.1 1288.6,427.0 1312.0,418.3 1329.5,415.3 1341.2,403.7 1352.9,412.4 1382.1,400.7 1411.3,403.7 1431.7,424.1 1458.0,406.6 1460.0,409.5 1465.8,424.1 1477.5,412.4 1492.1,427.0 1515.5,406.6 1538.9,444.6 1544.7,424.1 1556.4,418.3 1571.0,465.0 1582.7,430.0 1600.2,421.2 1614.8,462.1 1629.4,456.2 1646.9,432.9 1661.5,441.6 1676.1,415.3 1690.7,424.1 1702.4,450.4 1714.1,473.8 1722.9,441.6 1740.0,446.1 1755.3,464.7 1770.5,473.2 1784.1,485.1 1795.9,507.1 1804.4,529.2 1811.2,542.7 1818.0,532.5 1826.4,507.1 1833.2,481.7 1834.8,480.0 1834.8,480.0 1834.8,660.7" fill="#0098dd"/>
<polygon points="1101.2,660.7 1101.7,450.4 1119.2,447.5 1133.8,450.4 1148.4,443.1 1160.1,459.2 1174.7,453.3 1183.5,476.7 1201.0,467.9 1212.7,476.7 1221.4,500.1 1239.0,495.7 1259.4,479.6 1276.9,488.4 1300.3,485.4 1329.5,491.3 1341.2,470.8 1355.8,460.6 1379.2,485.4 1396.7,494.2 1425.9,473.8 1440.5,488.4 1455.1,485.4 1460.0,479.6 1471.7,476.7 1483.4,473.8 1489.2,488.4 1500.9,491.3 1518.4,479.6 1530.1,476.7 1535.9,488.4 1547.6,485.4 1559.3,497.1 1571.0,500.1 1582.7,491.3 1603.1,485.4 1617.7,508.8 1632.3,514.7 1649.9,491.3 1670.3,491.3 1682.0,505.9 1693.7,500.1 1708.3,526.3 1722.9,517.6 1740.0,520.7 1753.6,529.2 1765.4,539.3 1773.9,542.7 1785.8,547.8 1789.2,541.0 1795.9,549.5 1802.7,563.1 1805.3,583.4 1805.3,617.3 1834.8,617.3 1834.8,660.7" fill="#002fdd"/>
<polygon points="1829.8,566.4 1834.1,558.0 1834.1,624.1 1829.8,624.1" fill="#002fdd"/>
<polygon points="1101.2,660.7 1119.2,660.7 1133.8,649.0 1148.4,602.3 1165.9,590.6 1180.5,558.5 1189.3,549.7 1201.0,590.6 1221.4,584.8 1236.0,576.0 1247.7,581.8 1265.2,564.3 1288.6,567.2 1317.8,552.6 1332.4,561.4 1338.3,631.5 1347.0,549.7 1352.9,532.2 1382.1,538.0 1405.4,546.8 1440.5,552.6 1469.7,564.3 1460.0,561.4 1471.7,573.1 1477.5,608.1 1483.4,660.7 1483.4,660.7" fill="#2300a6"/>
<polygon points="1260.9,649.0 1262.3,625.6 1276.9,614.0 1294.5,608.1 1301.8,602.3 1304.7,619.8 1294.5,637.3 1279.9,646.1" fill="#7a008b"/>
<polygon points="1101.2,660.7 1101.7,660.7 1122.1,660.7 1133.8,654.9 1157.2,640.3 1183.5,632.9 1206.8,643.2 1224.4,654.9 1241.9,643.2 1265.2,646.1 1294.5,631.5 1317.8,621.3 1338.3,634.4 1367.5,622.7 1396.7,614.0 1425.9,596.4 1440.5,593.5 1455.1,608.1 1460.0,608.1 1471.7,602.3 1483.4,581.8 1495.0,602.3 1506.7,596.4 1518.4,581.8 1530.1,590.6 1541.8,587.7 1553.5,599.4 1576.8,608.1 1588.5,587.7 1603.1,567.2 1617.7,587.7 1635.2,599.4 1652.8,590.6 1664.5,608.1 1679.1,593.5 1693.7,584.8 1708.3,587.7 1728.7,587.7 1740.4,584.8 1752.1,596.4 1753.6,598.6 1767.1,602.0 1777.3,608.8 1790.8,615.6 1806.1,608.8 1816.3,615.6 1824.7,619.0 1834.1,624.1 1834.8,624.1 1834.8,660.7" fill="#000"/>
</g>
<line x1="1101.25" y1="582.0" x2="1834.8" y2="582.0" stroke="#dcdcdc" stroke-width="1" stroke-dasharray="2,2"/>
<line x1="1101.25" y1="424.6" x2="1834.8" y2="424.6" stroke="#dcdcdc" stroke-width="1" stroke-dasharray="2,2"/>
<line x1="1101.25" y1="267.2" x2="1834.8" y2="267.2" stroke="#dcdcdc" stroke-width="1" stroke-dasharray="2,2"/>
<line x1="1101.25" y1="109.8" x2="1834.8" y2="109.8" stroke="#dcdcdc" stroke-width="1" stroke-dasharray="2,2"/>
<line x1="1218.7" y1="31.1" x2="1218.7" y2="660.7" stroke="#b0b0b0" stroke-width="1.3"/>
<line x1="1336.2" y1="31.1" x2="1336.2" y2="660.7" stroke="#b0b0b0" stroke-width="1.3"/>
<line x1="1453.6" y1="31.1" x2="1453.6" y2="660.7" stroke="#b0b0b0" stroke-width="1.3"/>
<line x1="1571.1" y1="31.1" x2="1571.1" y2="660.7" stroke="#b0b0b0" stroke-width="1.3"/>
<line x1="1688.6" y1="31.1" x2="1688.6" y2="660.7" stroke="#b0b0b0" stroke-width="1.3"/>
<line x1="1806.0" y1="31.1" x2="1806.0" y2="660.7" stroke="#b0b0b0" stroke-width="1.3"/>
<line x1="1101.25" y1="503.3" x2="1834.8" y2="503.3" stroke="#b0b0b0" stroke-width="1.3"/>
<line x1="1101.25" y1="345.9" x2="1834.8" y2="345.9" stroke="#b0b0b0" stroke-width="1.3"/>
<line x1="1101.25" y1="188.5" x2="1834.8" y2="188.5" stroke="#b0b0b0" stroke-width="1.3"/>
<g clip-path="url(#bclip)">
<polyline points="1101.7,479.6 1119.2,479.6 1163.0,485.4 1206.8,505.9 1224.4,520.5 1253.6,503.0 1294.5,543.9 1352.9,555.5 1402.5,538.0 1469.7,540.9 1460.0,540.9 1503.8,542.4 1576.8,505.9 1637.7,500.9" fill="none" stroke="#9410a2" stroke-width="6.3" stroke-linejoin="round"/>
<polyline points="1637.7,500.9 1666.6,526.4 1686.5,568.6 1695.4,579.7 1710.9,584.1" fill="none" stroke="#9410a2" stroke-width="6.3" stroke-linejoin="round"/>
<polyline points="1710.9,584.1 1724.3,568.6 1742.0,557.5 1764.2,568.6 1790.8,579.7 1804.1,590.8 1835.2,553.1" fill="none" stroke="#6a04a8" stroke-width="6.3" stroke-linejoin="round"/>
<polyline points="1101.7,503.0 1130.9,508.8 1163.0,488.4 1206.8,503.0 1271.1,500.1 1323.7,514.7 1382.1,514.7 1469.7,511.7 1460.0,510.3 1512.6,510.3 1544.7,529.3 1642.2,524.2" fill="none" stroke="#9410a2" stroke-width="6.3" stroke-linejoin="round"/>
<polyline points="1642.2,524.2 1657.7,535.3 1671.0,548.6 1684.3,570.8 1702.1,568.6 1719.8,575.3" fill="none" stroke="#9410a2" stroke-width="6.3" stroke-linejoin="round"/>
<polyline points="1719.8,575.3 1737.6,559.7 1755.3,564.2 1777.5,573.0 1799.7,557.5 1806.3,553.1 1821.9,502.0 1835.2,419.9" fill="none" stroke="#6a04a8" stroke-width="6.3" stroke-linejoin="round"/>
<polyline points="1101.7,491.3 1119.2,479.6 1139.7,508.8 1174.7,511.7 1218.5,514.7 1271.1,535.1 1303.2,561.4 1347.0,514.7 1382.1,526.3 1431.7,491.3 1469.7,491.3 1460.0,491.3 1527.2,497.1 1571.0,488.4 1637.7,535.3" fill="none" stroke="#9410a2" stroke-width="6.3" stroke-linejoin="round"/>
<polyline points="1637.7,535.3 1651.0,557.5 1664.3,577.5 1688.8,566.4 1706.5,575.3" fill="none" stroke="#9410a2" stroke-width="6.3" stroke-linejoin="round"/>
<polyline points="1706.5,575.3 1724.3,570.8 1742.0,561.9 1768.6,573.0 1799.7,570.8 1806.3,557.5 1835.2,493.2" fill="none" stroke="#6a04a8" stroke-width="6.3" stroke-linejoin="round"/>
<polyline points="1101.7,462.1 1107.5,485.4 1128.0,500.1 1177.6,494.2 1218.5,500.1 1271.1,500.1 1323.7,514.7 1382.1,523.4 1469.7,532.2 1460.0,532.2 1503.8,526.3 1571.0,505.9 1639.9,546.4" fill="none" stroke="#9410a2" stroke-width="6.3" stroke-linejoin="round"/>
<polyline points="1639.9,546.4 1657.7,557.5 1673.2,575.3 1699.8,573.0 1715.4,584.1" fill="none" stroke="#9410a2" stroke-width="6.3" stroke-linejoin="round"/>
<polyline points="1715.4,584.1 1733.1,570.8 1755.3,566.4 1784.2,584.1 1799.7,590.8 1835.2,593.0" fill="none" stroke="#6a04a8" stroke-width="6.3" stroke-linejoin="round"/>
<polyline points="1144.0,597.9 1192.2,609.6 1279.9,602.3 1320.7,595.0 1352.9,606.7 1387.9,578.9 1425.9,574.5 1469.7,576.0 1460.0,576.0 1533.0,564.3 1562.2,538.0 1666.6,535.3" fill="none" stroke="#9410a2" stroke-width="6.3" stroke-linejoin="round"/>
<polyline points="1666.6,535.3 1684.3,557.5 1699.8,579.7" fill="none" stroke="#9410a2" stroke-width="6.3" stroke-linejoin="round"/>
<polyline points="1699.8,579.7 1733.1,575.3 1755.3,561.9 1788.6,570.8 1804.1,553.1 1817.4,490.9 1835.2,424.4" fill="none" stroke="#6a04a8" stroke-width="6.3" stroke-linejoin="round"/>
<polyline points="1103.1,462.1 1103.1,561.4" fill="none" stroke="#bb3488" stroke-width="6.3" stroke-linejoin="round"/>
</g>
<rect x="1116.4" y="46.4" width="71.0" height="56.3" fill="#fff" stroke="#000" stroke-width="1.6"/>
<text x="1130.45" y="83.8" font-size="31.6" textLength="42.89" lengthAdjust="spacingAndGlyphs" fill="#000" stroke="#000" stroke-width="0.12">(b)</text>
<rect x="1101.25" y="31.1" width="733.5" height="629.6" fill="none" stroke="#000" stroke-width="1.4"/>
<line x1="1101.2" y1="660.7" x2="1101.2" y2="667.7" stroke="#000" stroke-width="1.4"/>
<text x="1089.73" y="702.2" font-size="40.0" textLength="23.04" lengthAdjust="spacingAndGlyphs" fill="#000" stroke="#000" stroke-width="0.47">0</text>
<line x1="1218.7" y1="660.7" x2="1218.7" y2="667.7" stroke="#000" stroke-width="1.4"/>
<text x="1194.81" y="702.2" font-size="40.0" textLength="47.76" lengthAdjust="spacingAndGlyphs" fill="#000" stroke="#000" stroke-width="0.47">50</text>
<line x1="1336.2" y1="660.7" x2="1336.2" y2="667.7" stroke="#000" stroke-width="1.4"/>
<text x="1298.79" y="702.2" font-size="40.0" textLength="73.14" lengthAdjust="spacingAndGlyphs" fill="#000" stroke="#000" stroke-width="0.47">100</text>
<line x1="1453.6" y1="660.7" x2="1453.6" y2="667.7" stroke="#000" stroke-width="1.4"/>
<text x="1416.25" y="702.2" font-size="40.0" textLength="73.14" lengthAdjust="spacingAndGlyphs" fill="#000" stroke="#000" stroke-width="0.47">150</text>
<line x1="1571.1" y1="660.7" x2="1571.1" y2="667.7" stroke="#000" stroke-width="1.4"/>
<text x="1534.11" y="702.2" font-size="40.0" textLength="73.46" lengthAdjust="spacingAndGlyphs" fill="#000" stroke="#000" stroke-width="0.47">200</text>
<line x1="1688.6" y1="660.7" x2="1688.6" y2="667.7" stroke="#000" stroke-width="1.4"/>
<text x="1651.57" y="702.2" font-size="40.0" textLength="73.46" lengthAdjust="spacingAndGlyphs" fill="#000" stroke="#000" stroke-width="0.47">250</text>
<line x1="1806.0" y1="660.7" x2="1806.0" y2="667.7" stroke="#000" stroke-width="1.4"/>
<text x="1769.64" y="702.2" font-size="40.0" textLength="72.77" lengthAdjust="spacingAndGlyphs" fill="#000" stroke="#000" stroke-width="0.47">300</text>
<line x1="1094.2" y1="660.7" x2="1101.25" y2="660.7" stroke="#000" stroke-width="1.4"/>
<text x="1027.94" y="675.0" font-size="40.0" textLength="60.71" lengthAdjust="spacingAndGlyphs" fill="#000" stroke="#000" stroke-width="0.47">0.0</text>
<line x1="1094.2" y1="503.3" x2="1101.25" y2="503.3" stroke="#000" stroke-width="1.4"/>
<text x="1028.79" y="517.6" font-size="40.0" textLength="59.97" lengthAdjust="spacingAndGlyphs" fill="#000" stroke="#000" stroke-width="0.47">0.5</text>
<line x1="1094.2" y1="345.9" x2="1101.25" y2="345.9" stroke="#000" stroke-width="1.4"/>
<text x="1028.06" y="360.2" font-size="40.0" textLength="60.60" lengthAdjust="spacingAndGlyphs" fill="#000" stroke="#000" stroke-width="0.47">1.0</text>
<line x1="1094.2" y1="188.5" x2="1101.25" y2="188.5" stroke="#000" stroke-width="1.4"/>
<text x="1028.92" y="202.8" font-size="40.0" textLength="59.83" lengthAdjust="spacingAndGlyphs" fill="#000" stroke="#000" stroke-width="0.47">1.5</text>
<line x1="1094.2" y1="31.1" x2="1101.25" y2="31.1" stroke="#000" stroke-width="1.4"/>
<text x="1027.73" y="45.4" font-size="40.0" textLength="60.93" lengthAdjust="spacingAndGlyphs" fill="#000" stroke="#000" stroke-width="0.47">2.0</text>
<line x1="1097.2" y1="582.0" x2="1101.25" y2="582.0" stroke="#000" stroke-width="1.2"/>
<line x1="1097.2" y1="424.6" x2="1101.25" y2="424.6" stroke="#000" stroke-width="1.2"/>
<line x1="1097.2" y1="267.2" x2="1101.25" y2="267.2" stroke="#000" stroke-width="1.2"/>
<line x1="1097.2" y1="109.8" x2="1101.25" y2="109.8" stroke="#000" stroke-width="1.2"/>
<text x="884.87" y="345.8" font-size="40.0" textLength="257.02" lengthAdjust="spacingAndGlyphs" fill="#000" stroke="#000" stroke-width="0.47" transform="rotate(-90 1012.0 345.8)">Altitude (km)</text>
<text x="1352.22" y="746.5" font-size="40.0" textLength="27.04" lengthAdjust="spacingAndGlyphs" fill="#000" stroke="#000" stroke-width="0.47">A</text>
<path d="M1401.5 733.7 H1429.0 M1421.0 725.7 L1429.5 733.7 L1421.0 741.7" fill="none" stroke="#000" stroke-width="2.8" stroke-linejoin="miter"/>
<text x="1451.44" y="746.5" font-size="40.0" textLength="133.65" lengthAdjust="spacingAndGlyphs" fill="#000" stroke="#000" stroke-width="0.47">D (km)</text>
<rect x="219.2" y="795.8" width="733.3" height="630.2" fill="#cccccc"/>
<defs><clipPath id="cclip"><rect x="219.2" y="795.8" width="733.3" height="630.2"/></clipPath><linearGradient id="wedge" x1="0" y1="836" x2="0" y2="1290" gradientUnits="userSpaceOnUse"><stop offset="0" stop-color="#f0f921"/><stop offset="0.34" stop-color="#f0f921"/><stop offset="0.34" stop-color="#f9dd25"/><stop offset="0.56" stop-color="#f9dd25"/><stop offset="0.56" stop-color="#fdab33"/><stop offset="0.69" stop-color="#fdab33"/><stop offset="0.69" stop-color="#f07f4f"/><stop offset="0.83" stop-color="#f07f4f"/><stop offset="0.83" stop-color="#d9586a"/><stop offset="0.91" stop-color="#d9586a"/><stop offset="0.91" stop-color="#bb3488"/><stop offset="1" stop-color="#bb3488"/></linearGradient></defs>
<g clip-path="url(#cclip)">
<polygon points="935.4,1426.5 935.4,1408.5 936.8,1373.5 941.2,1357.4 945.6,1366.2 950.0,1358.9 952.9,1353.0 952.9,1426.5" fill="#009f00"/>
<polygon points="936.8,1426.5 937.6,1385.2 941.2,1367.6 945.6,1374.9 950.0,1369.1 952.9,1364.7 952.9,1426.5" fill="#00aa95"/>
<polygon points="936.8,1426.5 938.0,1391.0 942.7,1388.1 947.1,1392.5 952.9,1382.2 952.9,1426.5" fill="#0098dd"/>
<polygon points="945.6,1426.5 947.1,1404.1 950.0,1393.9 952.9,1391.0 952.9,1426.5" fill="#002fdd"/>
<polygon points="850.7,1426.5 854.3,1412.9 858.0,1408.5 862.4,1404.1 866.7,1399.8 871.1,1412.2 875.5,1405.6 879.9,1408.5 884.3,1401.2 891.6,1403.4 895.9,1408.5 899.6,1404.1 904.0,1410.0 909.1,1404.1 913.5,1399.8 919.3,1395.4 922.2,1404.1 928.1,1405.6 933.9,1408.5 936.8,1414.4 942.7,1415.8 951.4,1414.4 952.6,1426.5" fill="#000"/>
</g>
<line x1="356.8" y1="795.8" x2="356.8" y2="1426.0" stroke="#b0b0b0" stroke-width="1.3"/>
<line x1="494.4" y1="795.8" x2="494.4" y2="1426.0" stroke="#b0b0b0" stroke-width="1.3"/>
<line x1="632.0" y1="795.8" x2="632.0" y2="1426.0" stroke="#b0b0b0" stroke-width="1.3"/>
<line x1="769.6" y1="795.8" x2="769.6" y2="1426.0" stroke="#b0b0b0" stroke-width="1.3"/>
<line x1="907.2" y1="795.8" x2="907.2" y2="1426.0" stroke="#b0b0b0" stroke-width="1.3"/>
<line x1="219.2" y1="1336.0" x2="952.5" y2="1336.0" stroke="#b0b0b0" stroke-width="1.3"/>
<line x1="219.2" y1="1245.9" x2="952.5" y2="1245.9" stroke="#b0b0b0" stroke-width="1.3"/>
<line x1="219.2" y1="1155.9" x2="952.5" y2="1155.9" stroke="#b0b0b0" stroke-width="1.3"/>
<line x1="219.2" y1="1065.9" x2="952.5" y2="1065.9" stroke="#b0b0b0" stroke-width="1.3"/>
<line x1="219.2" y1="975.9" x2="952.5" y2="975.9" stroke="#b0b0b0" stroke-width="1.3"/>
<line x1="219.2" y1="885.8" x2="952.5" y2="885.8" stroke="#b0b0b0" stroke-width="1.3"/>
<g clip-path="url(#cclip)">
<polygon points="951.0,836.5 936.0,975.0 927.2,1039.5 921.3,1106.7 915.5,1165.0 908.2,1223.5 903.8,1258.5 903.8,1290.0 952.5,1290.0 952.5,836.5" fill="url(#wedge)"/>
<polyline points="219.1,1306.7 271.7,1306.7 300.7,1315.1 329.7,1315.1 358.8,1322.4 416.8,1322.4 456.7,1329.6 482.1,1329.6 536.6,1322.4 572.8,1320.5 627.3,1306.0 681.7,1297.0 725.2,1282.4 761.5,1291.5 812.3,1257.0 855.9,1256.0 899.4,1262.5" fill="none" stroke="#d9586a" stroke-width="6.0" stroke-linejoin="round"/>
<polyline points="219.1,1326.7 271.7,1326.7 329.7,1326.7 362.4,1329.6 420.4,1329.6 485.8,1329.6 536.6,1324.2 572.8,1320.5 645.4,1306.0 696.2,1297.0 721.6,1289.7 765.2,1289.7 808.7,1266.1 848.6,1266.1 899.4,1267.9" fill="none" stroke="#bb3488" stroke-width="6.0" stroke-linejoin="round"/>
<polyline points="219.1,1306.7 246.3,1309.7 275.3,1322.4 391.4,1322.4 464.0,1329.6" fill="none" stroke="#d9586a" stroke-width="6.0" stroke-linejoin="round"/>
<polyline points="219.1,1329.6 268.1,1336.9 369.7,1336.9 416.8,1344.1 485.8,1344.1 572.8,1327.8 681.7,1302.4 747.0,1320.5 768.8,1307.8 812.3,1280.6 852.2,1275.2 899.4,1295.1" fill="none" stroke="#bb3488" stroke-width="6.0" stroke-linejoin="round"/>
<polyline points="219.1,1347.8 246.3,1349.6 413.2,1349.6 500.3,1360.4 591.0,1353.2 656.3,1345.9 703.5,1309.7 754.3,1335.1 805.1,1335.1 845.0,1338.7 899.4,1324.2" fill="none" stroke="#9410a2" stroke-width="6.0" stroke-linejoin="round"/>
<polyline points="219.1,1353.2 271.7,1353.2 427.7,1356.8 500.3,1353.2 663.6,1347.8 707.1,1322.4 750.6,1331.4 790.6,1316.9 855.9,1320.5 899.4,1315.1" fill="none" stroke="#9410a2" stroke-width="6.0" stroke-linejoin="round"/>
<polyline points="219.1,1367.7 246.3,1371.3 329.7,1367.7 413.2,1367.7 572.8,1364.1 681.7,1338.7 718.0,1302.4 754.3,1306.0 797.8,1298.8 855.9,1309.7 899.4,1302.4" fill="none" stroke="#9410a2" stroke-width="6.0" stroke-linejoin="round"/>
<polyline points="219.1,1375.0 282.6,1369.5 391.4,1364.1 500.3,1371.3 609.1,1356.8 696.2,1349.6 739.8,1356.8 790.6,1331.4 855.9,1313.3 899.4,1287.9" fill="none" stroke="#6400a7" stroke-width="6.0" stroke-linejoin="round"/>
<polyline points="219.1,1376.8 271.7,1356.8 362.4,1364.1 427.7,1378.6 536.6,1371.3 696.2,1364.1 776.0,1364.1 826.8,1367.7 899.4,1367.7 910.3,1375.0" fill="none" stroke="#6400a7" stroke-width="6.0" stroke-linejoin="round"/>
<polyline points="219.1,1389.5 253.5,1389.5 315.2,1387.7 369.7,1378.6 464.0,1385.8 645.4,1378.6 710.7,1387.7 761.5,1375.0 805.1,1378.6 899.4,1367.7 921.2,1376.8" fill="none" stroke="#2f0596" stroke-width="6.0" stroke-linejoin="round"/>
<polyline points="219.1,1382.2 282.6,1382.2 384.2,1396.7 427.7,1385.8 572.8,1382.2 645.4,1371.3 710.7,1400.4 761.5,1375.0 819.6,1378.6 884.9,1375.0 917.5,1376.8" fill="none" stroke="#2f0596" stroke-width="6.0" stroke-linejoin="round"/>
<polyline points="219.1,1385.8 318.9,1389.5 355.1,1394.9 500.3,1394.9 670.8,1393.1 710.7,1400.4 757.9,1380.4 899.4,1367.7 921.2,1375.0" fill="none" stroke="#2f0596" stroke-width="6.0" stroke-linejoin="round"/>
<polyline points="219.1,1420.3 391.4,1420.3 670.8,1420.3 707.1,1416.7 739.8,1420.3 776.0,1416.7 812.3,1416.7 855.9,1396.7 892.1,1400.4 921.2,1382.2" fill="none" stroke="#1a0790" stroke-width="6.0" stroke-linejoin="round"/>
<polyline points="219.1,1420.3 413.2,1418.5 493.0,1404.0 572.8,1389.5 696.2,1365.9 754.3,1364.1 899.4,1353.2 921.2,1367.7" fill="none" stroke="#2f0596" stroke-width="6.0" stroke-linejoin="round"/>
<polyline points="219.1,1378.6 246.3,1375.0 271.7,1367.7 318.9,1362.3" fill="none" stroke="#bb3488" stroke-width="6.0" stroke-linejoin="round"/>
<line x1="901.7" y1="1263.9" x2="914.3" y2="1218.0" stroke="#bb3488" stroke-width="5.5"/>
<line x1="914.3" y1="1218.0" x2="926.8" y2="1172.0" stroke="#d9586a" stroke-width="5.5"/>
<line x1="926.8" y1="1172.0" x2="939.3" y2="1126.0" stroke="#f07f4f" stroke-width="5.5"/>
<line x1="939.3" y1="1126.0" x2="951.8" y2="1080.0" stroke="#fdab33" stroke-width="5.5"/>
<line x1="902.8" y1="1276.2" x2="915.0" y2="1231.7" stroke="#bb3488" stroke-width="5.5"/>
<line x1="915.0" y1="1231.7" x2="927.3" y2="1187.3" stroke="#d9586a" stroke-width="5.5"/>
<line x1="927.3" y1="1187.3" x2="939.6" y2="1142.8" stroke="#f07f4f" stroke-width="5.5"/>
<line x1="939.6" y1="1142.8" x2="951.8" y2="1098.4" stroke="#fdab33" stroke-width="5.5"/>
<line x1="901.7" y1="1294.6" x2="914.3" y2="1255.3" stroke="#9410a2" stroke-width="5.5"/>
<line x1="914.3" y1="1255.3" x2="926.8" y2="1215.9" stroke="#bb3488" stroke-width="5.5"/>
<line x1="926.8" y1="1215.9" x2="939.3" y2="1176.6" stroke="#d9586a" stroke-width="5.5"/>
<line x1="939.3" y1="1176.6" x2="951.8" y2="1137.2" stroke="#f07f4f" stroke-width="5.5"/>
<line x1="899.7" y1="1321.2" x2="912.7" y2="1281.3" stroke="#9410a2" stroke-width="5.5"/>
<line x1="912.7" y1="1281.3" x2="925.8" y2="1241.5" stroke="#bb3488" stroke-width="5.5"/>
<line x1="925.8" y1="1241.5" x2="938.8" y2="1201.6" stroke="#d9586a" stroke-width="5.5"/>
<line x1="938.8" y1="1201.6" x2="951.8" y2="1161.7" stroke="#f07f4f" stroke-width="5.5"/>
<line x1="901.7" y1="1323.2" x2="914.3" y2="1288.0" stroke="#9410a2" stroke-width="5.5"/>
<line x1="914.3" y1="1288.0" x2="926.8" y2="1252.7" stroke="#bb3488" stroke-width="5.5"/>
<line x1="926.8" y1="1252.7" x2="939.3" y2="1217.4" stroke="#d9586a" stroke-width="5.5"/>
<line x1="939.3" y1="1217.4" x2="951.8" y2="1182.2" stroke="#d9586a" stroke-width="5.5"/>
<line x1="902.8" y1="1351.8" x2="915.0" y2="1315.5" stroke="#6400a7" stroke-width="5.5"/>
<line x1="915.0" y1="1315.5" x2="927.3" y2="1279.3" stroke="#9410a2" stroke-width="5.5"/>
<line x1="927.3" y1="1279.3" x2="939.6" y2="1243.0" stroke="#bb3488" stroke-width="5.5"/>
<line x1="939.6" y1="1243.0" x2="951.8" y2="1206.7" stroke="#d9586a" stroke-width="5.5"/>
<line x1="907.9" y1="1366.1" x2="918.9" y2="1332.4" stroke="#6400a7" stroke-width="5.5"/>
<line x1="918.9" y1="1332.4" x2="929.9" y2="1298.7" stroke="#9410a2" stroke-width="5.5"/>
<line x1="929.9" y1="1298.7" x2="940.8" y2="1265.0" stroke="#bb3488" stroke-width="5.5"/>
<line x1="940.8" y1="1265.0" x2="951.8" y2="1231.2" stroke="#bb3488" stroke-width="5.5"/>
<line x1="909.9" y1="1370.2" x2="920.4" y2="1341.6" stroke="#6400a7" stroke-width="5.5"/>
<line x1="920.4" y1="1341.6" x2="930.9" y2="1313.0" stroke="#6400a7" stroke-width="5.5"/>
<line x1="930.9" y1="1313.0" x2="941.3" y2="1284.4" stroke="#9410a2" stroke-width="5.5"/>
<line x1="941.3" y1="1284.4" x2="951.8" y2="1255.8" stroke="#bb3488" stroke-width="5.5"/>
<line x1="918.1" y1="1374.3" x2="926.5" y2="1348.8" stroke="#2f0596" stroke-width="5.5"/>
<line x1="926.5" y1="1348.8" x2="935.0" y2="1323.2" stroke="#6400a7" stroke-width="5.5"/>
<line x1="935.0" y1="1323.2" x2="943.4" y2="1297.7" stroke="#9410a2" stroke-width="5.5"/>
<line x1="943.4" y1="1297.7" x2="951.8" y2="1272.1" stroke="#9410a2" stroke-width="5.5"/>
<line x1="922.2" y1="1378.4" x2="929.6" y2="1357.9" stroke="#2f0596" stroke-width="5.5"/>
<line x1="929.6" y1="1357.9" x2="937.0" y2="1337.5" stroke="#6400a7" stroke-width="5.5"/>
<line x1="937.0" y1="1337.5" x2="944.4" y2="1317.1" stroke="#6400a7" stroke-width="5.5"/>
<line x1="944.4" y1="1317.1" x2="951.8" y2="1296.6" stroke="#9410a2" stroke-width="5.5"/>
<line x1="920.1" y1="1382.5" x2="928.1" y2="1367.1" stroke="#2f0596" stroke-width="5.5"/>
<line x1="928.1" y1="1367.1" x2="936.0" y2="1351.8" stroke="#2f0596" stroke-width="5.5"/>
<line x1="936.0" y1="1351.8" x2="943.9" y2="1336.5" stroke="#6400a7" stroke-width="5.5"/>
<line x1="943.9" y1="1336.5" x2="951.8" y2="1321.2" stroke="#6400a7" stroke-width="5.5"/>
<line x1="926.3" y1="1378.4" x2="932.7" y2="1368.2" stroke="#2f0596" stroke-width="5.5"/>
<line x1="932.7" y1="1368.2" x2="939.0" y2="1357.9" stroke="#2f0596" stroke-width="5.5"/>
<line x1="939.0" y1="1357.9" x2="945.4" y2="1347.7" stroke="#2f0596" stroke-width="5.5"/>
<line x1="945.4" y1="1347.7" x2="951.8" y2="1337.5" stroke="#6400a7" stroke-width="5.5"/>
<line x1="930.4" y1="1376.3" x2="935.7" y2="1371.2" stroke="#1a0790" stroke-width="5.5"/>
<line x1="935.7" y1="1371.2" x2="941.1" y2="1366.1" stroke="#2f0596" stroke-width="5.5"/>
<line x1="941.1" y1="1366.1" x2="946.5" y2="1361.0" stroke="#2f0596" stroke-width="5.5"/>
<line x1="946.5" y1="1361.0" x2="951.8" y2="1355.9" stroke="#2f0596" stroke-width="5.5"/>
</g>
<line x1="968.5" y1="1358" x2="940" y2="1387" stroke="#000" stroke-width="1.6"/>
<polyline points="938.5,1376 938.5,1388.8 951,1388.8" fill="none" stroke="#000" stroke-width="1.6"/>
<rect x="968.5" y="1327.8" width="106.6" height="47.6" fill="#fff" stroke="#000" stroke-width="1.6"/>
<text x="976.95" y="1367.8" font-size="46.8" textLength="89.41" lengthAdjust="spacingAndGlyphs" fill="#000" stroke="#000" stroke-width="0.55">CF1</text>
<rect x="234.4" y="811.5" width="68.0" height="56.3" fill="#fff" stroke="#000" stroke-width="1.6"/>
<text x="248.31" y="848.9" font-size="31.6" textLength="40.18" lengthAdjust="spacingAndGlyphs" fill="#000" stroke="#000" stroke-width="0.12">(c)</text>
<rect x="219.2" y="795.8" width="733.3" height="630.2" fill="none" stroke="#000" stroke-width="1.4"/>
<line x1="219.2" y1="1426.0" x2="219.2" y2="1433.0" stroke="#000" stroke-width="1.4"/>
<text x="207.68" y="1467.5" font-size="40.0" textLength="23.04" lengthAdjust="spacingAndGlyphs" fill="#000" stroke="#000" stroke-width="0.47">0</text>
<line x1="356.8" y1="1426.0" x2="356.8" y2="1433.0" stroke="#000" stroke-width="1.4"/>
<text x="319.42" y="1467.5" font-size="40.0" textLength="73.14" lengthAdjust="spacingAndGlyphs" fill="#000" stroke="#000" stroke-width="0.47">100</text>
<line x1="494.4" y1="1426.0" x2="494.4" y2="1433.0" stroke="#000" stroke-width="1.4"/>
<text x="457.42" y="1467.5" font-size="40.0" textLength="73.46" lengthAdjust="spacingAndGlyphs" fill="#000" stroke="#000" stroke-width="0.47">200</text>
<line x1="632.0" y1="1426.0" x2="632.0" y2="1433.0" stroke="#000" stroke-width="1.4"/>
<text x="595.63" y="1467.5" font-size="40.0" textLength="72.77" lengthAdjust="spacingAndGlyphs" fill="#000" stroke="#000" stroke-width="0.47">300</text>
<line x1="769.6" y1="1426.0" x2="769.6" y2="1433.0" stroke="#000" stroke-width="1.4"/>
<text x="733.35" y="1467.5" font-size="40.0" textLength="73.20" lengthAdjust="spacingAndGlyphs" fill="#000" stroke="#000" stroke-width="0.47">400</text>
<line x1="907.2" y1="1426.0" x2="907.2" y2="1433.0" stroke="#000" stroke-width="1.4"/>
<text x="870.77" y="1467.5" font-size="40.0" textLength="72.82" lengthAdjust="spacingAndGlyphs" fill="#000" stroke="#000" stroke-width="0.47">500</text>
<line x1="212.2" y1="1426.0" x2="219.2" y2="1426.0" stroke="#000" stroke-width="1.4"/>
<text x="183.48" y="1440.3" font-size="40.0" textLength="23.04" lengthAdjust="spacingAndGlyphs" fill="#000" stroke="#000" stroke-width="0.47">0</text>
<line x1="212.2" y1="1336.0" x2="219.2" y2="1336.0" stroke="#000" stroke-width="1.4"/>
<text x="184.83" y="1350.3" font-size="40.0" textLength="22.01" lengthAdjust="spacingAndGlyphs" fill="#000" stroke="#000" stroke-width="0.47">1</text>
<line x1="212.2" y1="1245.9" x2="219.2" y2="1245.9" stroke="#000" stroke-width="1.4"/>
<text x="184.70" y="1260.2" font-size="40.0" textLength="22.21" lengthAdjust="spacingAndGlyphs" fill="#000" stroke="#000" stroke-width="0.47">2</text>
<line x1="212.2" y1="1155.9" x2="219.2" y2="1155.9" stroke="#000" stroke-width="1.4"/>
<text x="184.52" y="1170.2" font-size="40.0" textLength="22.13" lengthAdjust="spacingAndGlyphs" fill="#000" stroke="#000" stroke-width="0.47">3</text>
<line x1="212.2" y1="1065.9" x2="219.2" y2="1065.9" stroke="#000" stroke-width="1.4"/>
<text x="183.07" y="1080.2" font-size="40.0" textLength="23.04" lengthAdjust="spacingAndGlyphs" fill="#000" stroke="#000" stroke-width="0.47">4</text>
<line x1="212.2" y1="975.9" x2="219.2" y2="975.9" stroke="#000" stroke-width="1.4"/>
<text x="184.80" y="990.1" font-size="40.0" textLength="21.74" lengthAdjust="spacingAndGlyphs" fill="#000" stroke="#000" stroke-width="0.47">5</text>
<line x1="212.2" y1="885.8" x2="219.2" y2="885.8" stroke="#000" stroke-width="1.4"/>
<text x="182.94" y="900.1" font-size="40.0" textLength="23.85" lengthAdjust="spacingAndGlyphs" fill="#000" stroke="#000" stroke-width="0.47">6</text>
<line x1="212.2" y1="795.8" x2="219.2" y2="795.8" stroke="#000" stroke-width="1.4"/>
<text x="184.40" y="810.1" font-size="40.0" textLength="22.54" lengthAdjust="spacingAndGlyphs" fill="#000" stroke="#000" stroke-width="0.47">7</text>
<text x="41.07" y="1110.6" font-size="40.0" textLength="257.02" lengthAdjust="spacingAndGlyphs" fill="#000" stroke="#000" stroke-width="0.47" transform="rotate(-90 168.2 1110.6)">Altitude (km)</text>
<text x="465.94" y="1511.0" font-size="40.0" textLength="33.79" lengthAdjust="spacingAndGlyphs" fill="#000" stroke="#000" stroke-width="0.47">B</text>
<path d="M519.3 1498.2 H546.8 M538.8 1490.2 L547.3 1498.2 L538.8 1506.2" fill="none" stroke="#000" stroke-width="2.8" stroke-linejoin="miter"/>
<text x="569.24" y="1511.0" font-size="40.0" textLength="133.65" lengthAdjust="spacingAndGlyphs" fill="#000" stroke="#000" stroke-width="0.47">D (km)</text>
<rect x="1101.8" y="795.8" width="733.2" height="630.7" fill="#cccccc"/>
<defs><clipPath id="dclip"><rect x="1101.8" y="795.8" width="733.2" height="630.7"/></clipPath></defs>
<g clip-path="url(#dclip)">
<polygon points="1773.5,1425.5 1773.5,1378.3 1782.6,1362.0 1791.7,1367.4 1800.7,1358.4 1811.6,1378.3 1822.5,1374.7 1835.2,1372.9 1835.2,1425.5" fill="#009f00"/>
<polygon points="1777.1,1425.5 1777.1,1383.8 1782.6,1374.7 1791.7,1380.1 1800.7,1371.1 1811.6,1392.8 1822.5,1387.4 1835.2,1387.4 1835.2,1425.5" fill="#00aa95"/>
<polygon points="1780.8,1425.5 1780.8,1400.1 1788.0,1389.2 1798.9,1396.5 1809.8,1407.4 1822.5,1400.1 1835.2,1396.5 1835.2,1425.5" fill="#0098dd"/>
<polygon points="1797.1,1425.5 1800.7,1412.8 1809.8,1414.6 1824.3,1411.0 1835.2,1403.7 1835.2,1425.5" fill="#002fdd"/>
<polygon points="1156.7,1425.5 1167.6,1420.1 1178.5,1417.5 1182.1,1409.2 1187.5,1411.0 1198.4,1425.5" fill="#000"/>
<polygon points="1234.7,1425.5 1238.3,1421.1 1240.1,1425.5" fill="#000"/>
<polygon points="1541.3,1425.5 1546.7,1420.1 1555.8,1423.7 1581.2,1412.8 1595.7,1403.7 1603.0,1407.4 1613.9,1398.3 1624.8,1396.5 1628.4,1380.1 1635.6,1392.8 1639.3,1387.4 1646.5,1403.7 1661.0,1385.6 1668.3,1349.3 1675.6,1363.8 1679.2,1358.4 1684.6,1323.9 1693.7,1273.1 1701.0,1276.7 1711.8,1334.8 1720.9,1403.7 1730.0,1360.2 1739.0,1385.6 1742.7,1365.6 1748.1,1391.0 1759.0,1376.5 1766.3,1389.2 1773.5,1378.3 1788.0,1383.8 1802.5,1411.0 1820.7,1416.4 1835.2,1418.2 1835.2,1425.5" fill="#000"/>
</g>
<line x1="1101.8" y1="1363.4" x2="1835.0" y2="1363.4" stroke="#dcdcdc" stroke-width="1" stroke-dasharray="2,2"/>
<line x1="1101.8" y1="1237.3" x2="1835.0" y2="1237.3" stroke="#dcdcdc" stroke-width="1" stroke-dasharray="2,2"/>
<line x1="1101.8" y1="1111.2" x2="1835.0" y2="1111.2" stroke="#dcdcdc" stroke-width="1" stroke-dasharray="2,2"/>
<line x1="1101.8" y1="985.0" x2="1835.0" y2="985.0" stroke="#dcdcdc" stroke-width="1" stroke-dasharray="2,2"/>
<line x1="1101.8" y1="858.9" x2="1835.0" y2="858.9" stroke="#dcdcdc" stroke-width="1" stroke-dasharray="2,2"/>
<line x1="1261.0" y1="795.8" x2="1261.0" y2="1426.5" stroke="#b0b0b0" stroke-width="1.3"/>
<line x1="1420.3" y1="795.8" x2="1420.3" y2="1426.5" stroke="#b0b0b0" stroke-width="1.3"/>
<line x1="1579.5" y1="795.8" x2="1579.5" y2="1426.5" stroke="#b0b0b0" stroke-width="1.3"/>
<line x1="1738.8" y1="795.8" x2="1738.8" y2="1426.5" stroke="#b0b0b0" stroke-width="1.3"/>
<line x1="1101.8" y1="1300.4" x2="1835.0" y2="1300.4" stroke="#b0b0b0" stroke-width="1.3"/>
<line x1="1101.8" y1="1174.2" x2="1835.0" y2="1174.2" stroke="#b0b0b0" stroke-width="1.3"/>
<line x1="1101.8" y1="1048.1" x2="1835.0" y2="1048.1" stroke="#b0b0b0" stroke-width="1.3"/>
<line x1="1101.8" y1="921.9" x2="1835.0" y2="921.9" stroke="#b0b0b0" stroke-width="1.3"/>
<g clip-path="url(#dclip)">
<line x1="1103" y1="1020" x2="1103" y2="1222" stroke="#f0f921" stroke-width="3.5"/>
<polyline points="1101.8,1089.1 1124.3,1093.5 1155.1,1076.5 1185.9,1076.5 1220.4,1063.2 1262.1,1063.2 1312.9,1076.5 1363.7,1076.5 1414.5,1113.7 1476.1,1125.7 1579.5,1126.9 1584.9,1102.3 1639.4,901.1 1698.9,918.2 1766.3,795.8 1833.5,838.1" fill="none" stroke="#f0f921" stroke-width="5.5" stroke-linejoin="round"/>
<polyline points="1101.8,1101.7 1124.3,1113.7 1144.3,1113.7 1175.0,1137.6 1220.4,1158.5 1258.5,1150.3 1312.9,1137.0 1341.9,1031.1 1352.7,991.3 1385.4,942.1 1416.3,905.5 1450.5,923.8 1487.1,923.8 1530.4,909.3 1566.8,891.0 1610.4,803.4 1646.4,795.8 1675.0,783.2" fill="none" stroke="#f0f921" stroke-width="5.5" stroke-linejoin="round"/>
<polyline points="1101.8,1281.4 1127.9,1266.9 1164.2,1263.1 1191.4,1273.2 1213.3,1275.1 1230.1,1288.4 1240.3,1258.7 1289.4,1258.7 1316.6,1248.6 1349.2,1229.7 1378.2,1222.2 1414.5,1222.2 1454.3,1232.2 1487.1,1240.4 1530.4,1230.4 1552.3,1259.4 1570.4,1281.4 1619.3,1295.9 1650.2,1228.5 1677.4,1155.9 1697.3,1101.7 1739.0,1039.9 1788.1,1005.8 1833.5,953.5" fill="none" stroke="#f0f921" stroke-width="5.5" stroke-linejoin="round"/>
<polyline points="1101.8,1325.0 1138.7,1319.3 1180.5,1315.5 1198.6,1299.7 1224.1,1317.4 1251.2,1311.7 1287.5,1301.0 1323.8,1290.3 1349.2,1290.3 1378.2,1275.1 1439.8,1258.1 1552.3,1258.1 1592.2,1268.2 1641.1,1249.9 1671.8,1199.4 1698.9,1184.9 1730.0,1166.7 1735.5,1135.7 1744.5,1111.2 1775.3,858.2 1833.5,877.8" fill="none" stroke="#fdab33" stroke-width="5.5" stroke-linejoin="round"/>
<polyline points="1101.8,1348.3 1104.3,1328.7 1138.7,1325.0 1213.3,1325.6 1244.0,1331.9 1271.2,1331.9 1309.3,1317.4 1338.3,1312.3 1372.8,1312.3 1410.7,1296.6 1443.5,1290.3 1525.0,1305.4 1617.5,1281.4 1668.3,1263.1 1722.8,1248.6 1749.9,1236.0 1775.3,1223.4 1784.4,1184.9 1797.2,1135.7 1806.2,1102.3 1833.5,985.0" fill="none" stroke="#f07f4f" stroke-width="5.5" stroke-linejoin="round"/>
<polyline points="1414.5,1222.2 1454.3,1232.2 1487.1,1240.4 1530.4,1230.4" fill="none" stroke="#f9dd25" stroke-width="5.5" stroke-linejoin="round"/>
<polyline points="1619.3,1295.9 1650.2,1228.5 1677.4,1155.9" fill="none" stroke="#f9dd25" stroke-width="5.5" stroke-linejoin="round"/>
<polyline points="1698.9,1184.9 1730.0,1166.7 1735.5,1135.7 1744.5,1111.2" fill="none" stroke="#f9dd25" stroke-width="5.5" stroke-linejoin="round"/>
<polyline points="1101.8,1325.0 1138.7,1319.3 1180.5,1315.5 1198.6,1299.7 1224.1,1317.4" fill="none" stroke="#f07f4f" stroke-width="5.5" stroke-linejoin="round"/>
<polyline points="1775.3,1223.4 1784.4,1184.9 1797.2,1135.7 1806.2,1102.3" fill="none" stroke="#fdab33" stroke-width="5.5" stroke-linejoin="round"/>
<polyline points="1806.2,1102.3 1833.5,985.0" fill="none" stroke="#f0f921" stroke-width="5.5" stroke-linejoin="round"/>
<polyline points="1744.5,1111.2 1775.3,858.2 1833.5,877.8" fill="none" stroke="#f0f921" stroke-width="5.5" stroke-linejoin="round"/>
</g>
<line x1="1773.5" y1="1312.3" x2="1773.5" y2="1356.6" stroke="#000" stroke-width="1.6"/>
<polyline points="1765,1348 1773.5,1356.6 1782,1348" fill="none" stroke="#000" stroke-width="1.6"/>
<rect x="1722.7" y="1265.1" width="107.1" height="47.2" fill="#fff" stroke="#000" stroke-width="1.6"/>
<text x="1730.42" y="1305.8" font-size="46.8" textLength="90.26" lengthAdjust="spacingAndGlyphs" fill="#000" stroke="#000" stroke-width="0.55">CF1</text>
<rect x="1116.0" y="811.1" width="71.5" height="56.6" fill="#fff" stroke="#000" stroke-width="1.6"/>
<text x="1130.30" y="848.7" font-size="31.6" textLength="42.89" lengthAdjust="spacingAndGlyphs" fill="#000" stroke="#000" stroke-width="0.12">(d)</text>
<rect x="1101.8" y="795.8" width="733.2" height="630.7" fill="none" stroke="#000" stroke-width="1.4"/>
<line x1="1101.8" y1="1426.5" x2="1101.8" y2="1433.5" stroke="#000" stroke-width="1.4"/>
<text x="1090.28" y="1468.0" font-size="40.0" textLength="23.04" lengthAdjust="spacingAndGlyphs" fill="#000" stroke="#000" stroke-width="0.47">0</text>
<line x1="1261.0" y1="1426.5" x2="1261.0" y2="1433.5" stroke="#000" stroke-width="1.4"/>
<text x="1223.67" y="1468.0" font-size="40.0" textLength="73.14" lengthAdjust="spacingAndGlyphs" fill="#000" stroke="#000" stroke-width="0.47">100</text>
<line x1="1420.3" y1="1426.5" x2="1420.3" y2="1433.5" stroke="#000" stroke-width="1.4"/>
<text x="1383.32" y="1468.0" font-size="40.0" textLength="73.46" lengthAdjust="spacingAndGlyphs" fill="#000" stroke="#000" stroke-width="0.47">200</text>
<line x1="1579.5" y1="1426.5" x2="1579.5" y2="1433.5" stroke="#000" stroke-width="1.4"/>
<text x="1543.18" y="1468.0" font-size="40.0" textLength="72.77" lengthAdjust="spacingAndGlyphs" fill="#000" stroke="#000" stroke-width="0.47">300</text>
<line x1="1738.8" y1="1426.5" x2="1738.8" y2="1433.5" stroke="#000" stroke-width="1.4"/>
<text x="1702.55" y="1468.0" font-size="40.0" textLength="73.20" lengthAdjust="spacingAndGlyphs" fill="#000" stroke="#000" stroke-width="0.47">400</text>
<line x1="1094.8" y1="1426.5" x2="1101.8" y2="1426.5" stroke="#000" stroke-width="1.4"/>
<text x="1066.08" y="1440.8" font-size="40.0" textLength="23.04" lengthAdjust="spacingAndGlyphs" fill="#000" stroke="#000" stroke-width="0.47">0</text>
<line x1="1094.8" y1="1300.4" x2="1101.8" y2="1300.4" stroke="#000" stroke-width="1.4"/>
<text x="1067.30" y="1314.7" font-size="40.0" textLength="22.21" lengthAdjust="spacingAndGlyphs" fill="#000" stroke="#000" stroke-width="0.47">2</text>
<line x1="1094.8" y1="1174.2" x2="1101.8" y2="1174.2" stroke="#000" stroke-width="1.4"/>
<text x="1065.67" y="1188.5" font-size="40.0" textLength="23.04" lengthAdjust="spacingAndGlyphs" fill="#000" stroke="#000" stroke-width="0.47">4</text>
<line x1="1094.8" y1="1048.1" x2="1101.8" y2="1048.1" stroke="#000" stroke-width="1.4"/>
<text x="1065.54" y="1062.4" font-size="40.0" textLength="23.85" lengthAdjust="spacingAndGlyphs" fill="#000" stroke="#000" stroke-width="0.47">6</text>
<line x1="1094.8" y1="921.9" x2="1101.8" y2="921.9" stroke="#000" stroke-width="1.4"/>
<text x="1066.03" y="936.2" font-size="40.0" textLength="23.29" lengthAdjust="spacingAndGlyphs" fill="#000" stroke="#000" stroke-width="0.47">8</text>
<line x1="1094.8" y1="795.8" x2="1101.8" y2="795.8" stroke="#000" stroke-width="1.4"/>
<text x="1041.13" y="810.1" font-size="40.0" textLength="48.06" lengthAdjust="spacingAndGlyphs" fill="#000" stroke="#000" stroke-width="0.47">10</text>
<line x1="1097.8" y1="1363.4" x2="1101.8" y2="1363.4" stroke="#000" stroke-width="1.2"/>
<line x1="1097.8" y1="1237.3" x2="1101.8" y2="1237.3" stroke="#000" stroke-width="1.2"/>
<line x1="1097.8" y1="1111.2" x2="1101.8" y2="1111.2" stroke="#000" stroke-width="1.2"/>
<line x1="1097.8" y1="985.0" x2="1101.8" y2="985.0" stroke="#000" stroke-width="1.2"/>
<line x1="1097.8" y1="858.9" x2="1101.8" y2="858.9" stroke="#000" stroke-width="1.2"/>
<text x="898.77" y="1110.9" font-size="40.0" textLength="257.02" lengthAdjust="spacingAndGlyphs" fill="#000" stroke="#000" stroke-width="0.47" transform="rotate(-90 1025.9 1110.9)">Altitude (km)</text>
<text x="1350.10" y="1511.0" font-size="40.0" textLength="31.29" lengthAdjust="spacingAndGlyphs" fill="#000" stroke="#000" stroke-width="0.47">C</text>
<path d="M1401.5 1498.2 H1429.0 M1421.0 1490.2 L1429.5 1498.2 L1421.0 1506.2" fill="none" stroke="#000" stroke-width="2.8" stroke-linejoin="miter"/>
<text x="1451.44" y="1511.0" font-size="40.0" textLength="133.65" lengthAdjust="spacingAndGlyphs" fill="#000" stroke="#000" stroke-width="0.47">D (km)</text>
<rect x="1896.5" y="1204.02" width="41.1" height="159.18" fill="#f9dd25"/>
<rect x="1896.5" y="1045.45" width="41.1" height="159.18" fill="#fdab33"/>
<rect x="1896.5" y="886.88" width="41.1" height="159.17" fill="#f07f4f"/>
<rect x="1896.5" y="728.30" width="41.1" height="159.18" fill="#d9586a"/>
<rect x="1896.5" y="569.72" width="41.1" height="159.18" fill="#bb3488"/>
<rect x="1896.5" y="411.15" width="41.1" height="159.17" fill="#9410a2"/>
<rect x="1896.5" y="252.58" width="41.1" height="159.17" fill="#6400a7"/>
<rect x="1896.5" y="94.00" width="41.1" height="159.18" fill="#2f0596"/>
<polygon points="1896.5,1362.6 1937.6,1362.6 1917.0,1426" fill="#f0f921"/>
<polygon points="1896.5,94.0 1937.6,94.0 1917.0,29.2" fill="#0d0887"/>
<polygon points="1917.0,29.2 1937.6,94.0 1937.6,1362.6 1917.0,1426 1896.5,1362.6 1896.5,94.0" fill="none" stroke="#000" stroke-width="1.4"/>
<line x1="1937.6" y1="1362.6" x2="1944.6" y2="1362.6" stroke="#000" stroke-width="1.4"/>
<text x="1950.05" y="1376.9" font-size="40.0" textLength="23.04" lengthAdjust="spacingAndGlyphs" fill="#000" stroke="#000" stroke-width="0.47">4</text>
<line x1="1937.6" y1="1204.0" x2="1944.6" y2="1204.0" stroke="#000" stroke-width="1.4"/>
<text x="1949.43" y="1218.3" font-size="40.0" textLength="21.74" lengthAdjust="spacingAndGlyphs" fill="#000" stroke="#000" stroke-width="0.47">5</text>
<line x1="1937.6" y1="1045.4" x2="1944.6" y2="1045.4" stroke="#000" stroke-width="1.4"/>
<text x="1948.82" y="1059.7" font-size="40.0" textLength="23.85" lengthAdjust="spacingAndGlyphs" fill="#000" stroke="#000" stroke-width="0.47">6</text>
<line x1="1937.6" y1="886.9" x2="1944.6" y2="886.9" stroke="#000" stroke-width="1.4"/>
<text x="1948.92" y="901.2" font-size="40.0" textLength="22.54" lengthAdjust="spacingAndGlyphs" fill="#000" stroke="#000" stroke-width="0.47">7</text>
<line x1="1937.6" y1="728.3" x2="1944.6" y2="728.3" stroke="#000" stroke-width="1.4"/>
<text x="1949.18" y="742.6" font-size="40.0" textLength="23.29" lengthAdjust="spacingAndGlyphs" fill="#000" stroke="#000" stroke-width="0.47">8</text>
<line x1="1937.6" y1="569.7" x2="1944.6" y2="569.7" stroke="#000" stroke-width="1.4"/>
<text x="1948.99" y="584.0" font-size="40.0" textLength="23.80" lengthAdjust="spacingAndGlyphs" fill="#000" stroke="#000" stroke-width="0.47">9</text>
<line x1="1937.6" y1="411.1" x2="1944.6" y2="411.1" stroke="#000" stroke-width="1.4"/>
<text x="1947.71" y="425.4" font-size="40.0" textLength="48.06" lengthAdjust="spacingAndGlyphs" fill="#000" stroke="#000" stroke-width="0.47">10</text>
<line x1="1937.6" y1="252.6" x2="1944.6" y2="252.6" stroke="#000" stroke-width="1.4"/>
<text x="1947.75" y="266.9" font-size="40.0" textLength="47.39" lengthAdjust="spacingAndGlyphs" fill="#000" stroke="#000" stroke-width="0.47">11</text>
<line x1="1937.6" y1="94.0" x2="1944.6" y2="94.0" stroke="#000" stroke-width="1.4"/>
<text x="1947.77" y="108.3" font-size="40.0" textLength="47.11" lengthAdjust="spacingAndGlyphs" fill="#000" stroke="#000" stroke-width="0.47">12</text>
<text x="2040.80" y="1069.0" font-size="40.0" textLength="628.61" lengthAdjust="spacingAndGlyphs" fill="#000" stroke="#000" stroke-width="0.47" transform="rotate(-90 2041.0 1069.0)">Water vapour mixing ratio (g kg</text>
<text x="2024.29" y="436.8" font-size="28.8" textLength="39.51" lengthAdjust="spacingAndGlyphs" fill="#000" stroke="#000" stroke-width="0.11" transform="rotate(-90 2026.0 436.8)">−1</text>
<text x="2040.81" y="394.8" font-size="40.0" textLength="11.06" lengthAdjust="spacingAndGlyphs" fill="#000" stroke="#000" stroke-width="0.47" transform="rotate(-90 2041.0 394.8)">)</text>
<rect x="291.90" y="1561.0" width="245.38" height="39.5" fill="#7a008b"/>
<rect x="536.68" y="1561.0" width="245.38" height="39.5" fill="#2300a6"/>
<rect x="781.47" y="1561.0" width="245.38" height="39.5" fill="#002fdd"/>
<rect x="1026.25" y="1561.0" width="245.38" height="39.5" fill="#0098dd"/>
<rect x="1271.03" y="1561.0" width="245.38" height="39.5" fill="#00aa95"/>
<rect x="1515.82" y="1561.0" width="245.38" height="39.5" fill="#009f00"/>
<polygon points="291.9,1561.0 291.9,1600.5 218.5,1580.8" fill="#2f0035"/>
<polygon points="1760.6,1561.0 1760.6,1600.5 1833.8,1580.8" fill="#cccccc"/>
<polygon points="218.5,1580.8 291.9,1561.0 1760.6,1561.0 1833.8,1580.8 1760.6,1600.5 291.9,1600.5" fill="none" stroke="#000" stroke-width="1.4"/>
<line x1="291.9" y1="1600.5" x2="291.9" y2="1607.5" stroke="#000" stroke-width="1.4"/>
<text x="267.53" y="1641.4" font-size="40.0" textLength="47.28" lengthAdjust="spacingAndGlyphs" fill="#000" stroke="#000" stroke-width="0.47">15</text>
<line x1="536.7" y1="1600.5" x2="536.7" y2="1607.5" stroke="#000" stroke-width="1.4"/>
<text x="511.76" y="1641.4" font-size="40.0" textLength="48.45" lengthAdjust="spacingAndGlyphs" fill="#000" stroke="#000" stroke-width="0.47">16</text>
<line x1="781.5" y1="1600.5" x2="781.5" y2="1607.5" stroke="#000" stroke-width="1.4"/>
<text x="757.03" y="1641.4" font-size="40.0" textLength="47.76" lengthAdjust="spacingAndGlyphs" fill="#000" stroke="#000" stroke-width="0.47">17</text>
<line x1="1026.2" y1="1600.5" x2="1026.2" y2="1607.5" stroke="#000" stroke-width="1.4"/>
<text x="1001.45" y="1641.4" font-size="40.0" textLength="48.19" lengthAdjust="spacingAndGlyphs" fill="#000" stroke="#000" stroke-width="0.47">18</text>
<line x1="1271.0" y1="1600.5" x2="1271.0" y2="1607.5" stroke="#000" stroke-width="1.4"/>
<text x="1246.26" y="1641.4" font-size="40.0" textLength="48.29" lengthAdjust="spacingAndGlyphs" fill="#000" stroke="#000" stroke-width="0.47">19</text>
<line x1="1515.8" y1="1600.5" x2="1515.8" y2="1607.5" stroke="#000" stroke-width="1.4"/>
<text x="1491.37" y="1641.4" font-size="40.0" textLength="48.41" lengthAdjust="spacingAndGlyphs" fill="#000" stroke="#000" stroke-width="0.47">20</text>
<line x1="1760.6" y1="1600.5" x2="1760.6" y2="1607.5" stroke="#000" stroke-width="1.4"/>
<text x="1736.69" y="1641.4" font-size="40.0" textLength="47.76" lengthAdjust="spacingAndGlyphs" fill="#000" stroke="#000" stroke-width="0.47">21</text>
<text x="694.03" y="1686.0" font-size="40.0" textLength="666.56" lengthAdjust="spacingAndGlyphs" fill="#000" stroke="#000" stroke-width="0.47">Virtual potential temperature (°C)</text>
</svg></body></html>
